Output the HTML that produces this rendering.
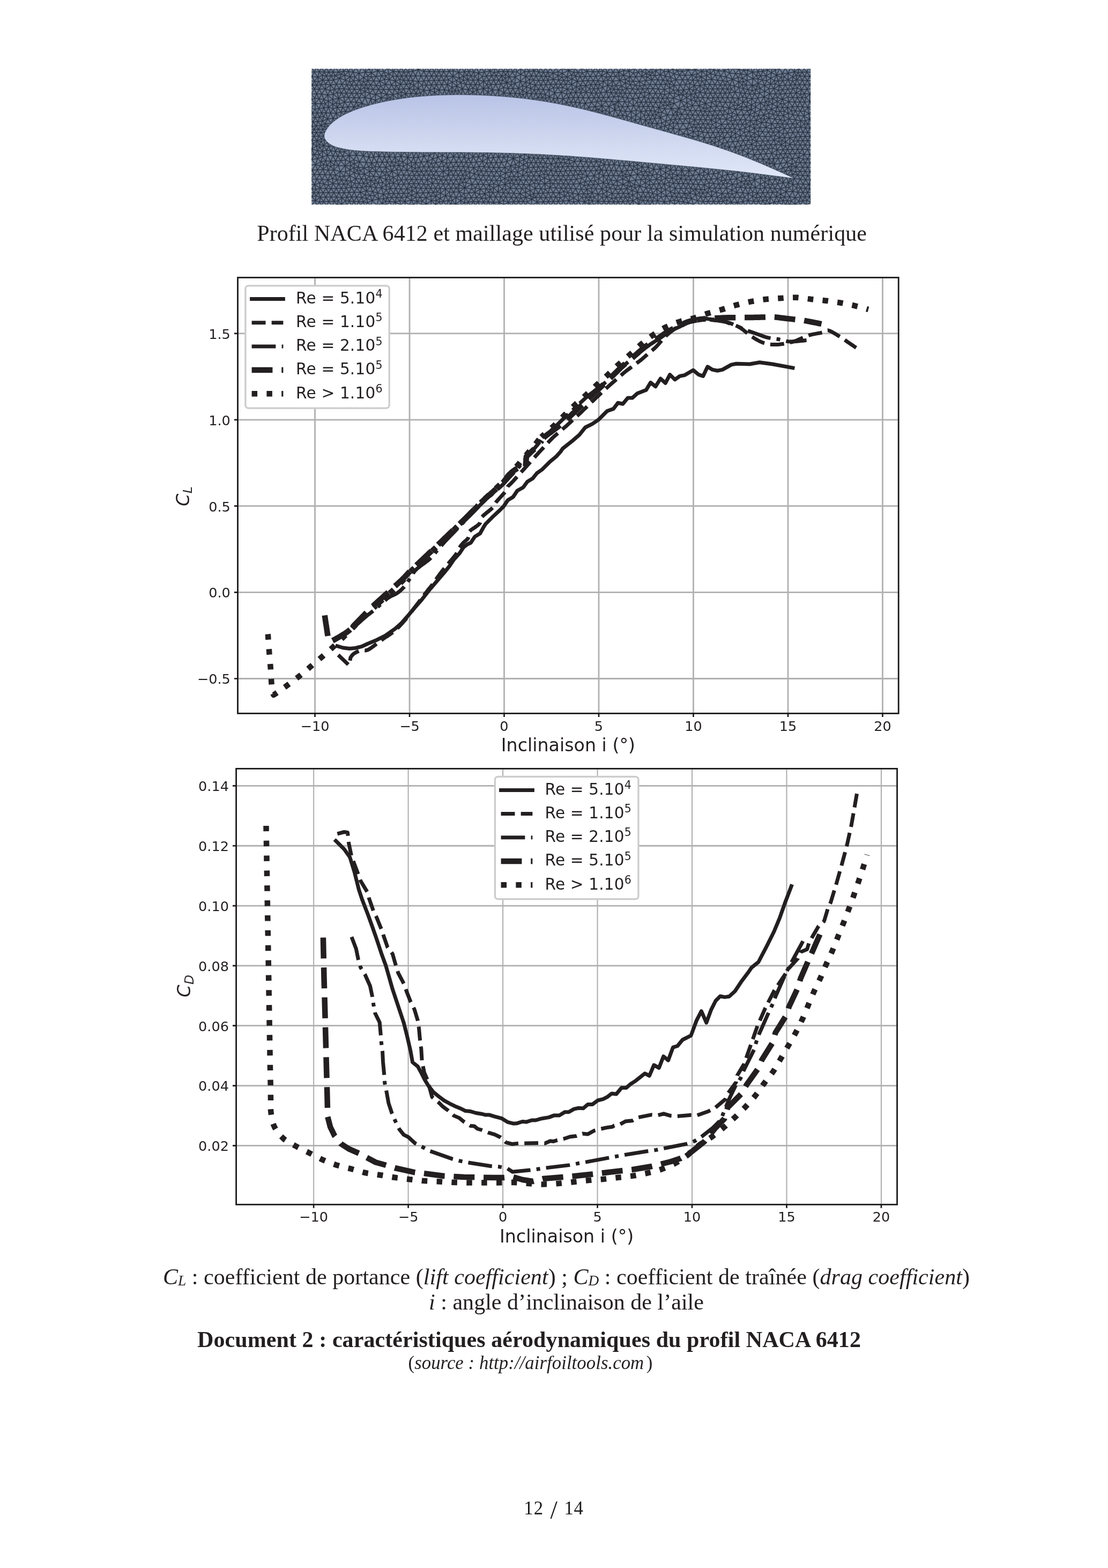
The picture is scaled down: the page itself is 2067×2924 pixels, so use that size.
<!DOCTYPE html>
<html lang="fr"><head><meta charset="utf-8"><title>Document 2 – NACA 6412</title><style>html,body{margin:0;padding:0;background:#fff}body{width:2067px;height:2924px;overflow:hidden}svg{display:block}text{white-space:pre}</style></head>
<body>
<svg width="2067" height="2924" viewBox="0 0 2067 2924">
<rect width="2067" height="2924" fill="#fff"/>
<defs><clipPath id="ic"><rect x="581.2" y="128.3" width="931.1" height="253.2"/></clipPath><linearGradient id="fg" x1="0" y1="176" x2="0" y2="332" gradientUnits="userSpaceOnUse"><stop offset="0" stop-color="#b8c3e6"/><stop offset="0.3" stop-color="#c5ceeb"/><stop offset="0.65" stop-color="#d4dcf2"/><stop offset="1" stop-color="#e0e7f7"/></linearGradient></defs>
<g clip-path="url(#ic)"><rect x="581.2" y="128.3" width="931.1" height="253.2" fill="#728096"/><g transform="translate(581.2 128.3) scale(.5)" fill="none" stroke-linecap="round" stroke-linejoin="round"><defs><path id="msh" d="M404-18l-6 21-8-18m953-2l4 18-15 9-17 0-14 12-16-14-13 6-8 10-16-6-15 10-23 2-22 0-24-6-17 3-13 1-19 1-9 13-17 5-20-3-18 0-20 0-19 1-21 2-19-8-15 6-8 13-19-1-19 0-19 1-18 2-18 0-21 1-20-6-13 13 1 22 17 3 17 0 18 0 17 2 16 9 19-14 25-2 19 6 16-3 19-3 2-21 3-20-21 11-13-13-4-15 19 9-2 19-21 0-12 12-7-13-11 15-8-15-9 14-10-13-6 21-12-19-9 17-9-17-9 16-12-15-17 12-16-5-14 13-12 12-16-2-19 1-23-3-19 13 14 1 5-14 9 15-14-1m785-119l3 21-16-6-10 10-7-14-11 15-8-17-18 11 0-14m158-6l5 19-22-5-12 18 11 24-20 7-8 13-18 0-20-1-19-1-19 1-18 4-21-1-16-6-17 3-7 20-9 14-9 5-14-7-20 0-18 5-16-3-8-18-20-1-20 0-19 1-10-11-2-17-13-17-10 16-12-16-17 9-7-15-14 19-16-15-10 18-9-17-12-15-7-18-10 13-8-13-8 15-11-15-9 15-10-16-12 15-21-12-13 15-12-16-4 16-19-6-24-9-15 13-8-14-11 19-10-19-9 16-9-16-8 16-10-16-7 15-8-14-11 10-18 2-17 1-14 10-14-10-16 1-18-2-16 0-19 1-16 3-9 12-19 1-16 2-15 12-12-13-15-1-15-3-13 4-16 6-23-6-17 13-17 2-19 0-18 0-20 1-18 1-21 3-20-4-17-1-8 15-21 0-16 6-18-4-22-2-18 6-17-2-21-2-17 0-6 11-16 6-21-1-20 0-19-1-18-1-18 2-16 5-18-6-13 19-10 18-16-3-11 6-15 1m1416-131l3 20-22 5-18-2-18-7 5 18-20-9-12 17-5-17-13-10-17 8-4 18-9-12-4-17 17 11 3-19m-1074-3l0 15-13 11-24 5-22-5-17-1-18-2-19 4-20-1-8 15-18 0-15-2-17 6-21-2-19 2m1718-44l0 18-12-9-5 14-10-15-8 16-9-17-12 19 2 24-21 6-15 5-17 1-23-9-10 20-10-13-4-17 24 10 7 24 16-15 12 11 5-12 10 12 5-17 18 19 3-25 19 1 16 4 16 3 15-10 22-11 16 8 13-2-6 15-7-13-10 13-6-21-9 20-13-9-1 22-14-12-8 17-8-20-16 13-19-18-23-14 2 20-18-8-14 14 0 21-16-6-17-4-18 0-9 15-9-15-9 15-11-16-8 16-11-17-8 17-11-16-4 15-14-11 1 24-18 5-17 4-15-4-12-13-20 1-12 11-6-12-14 12-20-13-14 15-9 16-19-1-17 2-16-5-21 3-21 4 2 25-21 4-20 0-15 0-11-8-2 20-5-21-7-10-22 1-9-16-18 0-17 1-10 17 21-2 6-16 10 13-16 3-11-15-10-17-20-4-1-24-11-18-8 17-13-15-6-19-13 11-2-16-11-16-7-15m607-3l-4 11-9-10-6 18-12-18-10 18-6-15-11 12 17 3 22 0 15-8 17-2 10 20-11 22 20-8 3 17m-1212-59l-4 19-12-14-5 17-10-12-7 12-9-16-9 15-10-16-11 15-22-12-13 13-9-17-13 14-4-17m138-1l16 13 16-8 5 15 11-15 9 15 10-16 8 17 10-16 8 16 9-16 9 16 9-19 11 18 15 18-3 22-14-9-4 18-13-16-8 16-11-16-9 16-9-16-10 17-10-16-9 17-9-16-7 16-14-13-16 14-4-18-9 12-8-13-8-16-9-15-18-1-21-1-5-17m368-3l-3 19 16 5 8 12 8-15 12 16 7-17 8 12 8-12 6 20 12-18 10 19 6-20-5-15-11 16-8-17-10 15-8-15-8 15-10-15-9 16-12-14-4 17m-567-23l-13 22-13 13-7-14-9-12-8 13 17-1 8-19 12 20 10 7 9-11 4 15 14-13 6 19 11-18 7 18 15-13 17 16 7-21 22 3-9-14-12-7-1 18 9 15 13-12 25-7 22 3 19 8-6-21m-169-7l6 18 11-12 7 14 9-16 8 17 11-16 11 21 0 26-15-13-18 0-20-6-13-4-23 6-15 1-10 16-8-16-13 15-19-11-12 15-9-17-8 16 9 15 8-14-17-1m971-54l-6 16 23-10m627-6l-15 12-12 15-22-2-20-8-14 19-8-19-11 16-6-19-12 13-4-19m124-8l4 15 10-11 5 11 10-12 7 19-17-7-15 0-19-3 8 16-20-1 9 14 11-13 11-13 11 17 4-17m-798-14l-1 16 19 4 17 1 17 0 19 3 19-5 16 6-1-19m89-6l4 18-18 6-3-18m183-6l-6 17-20 15-18-11-12 15-9-15-10 16-16 2-10 16-14 12-6-15-9 15-9-15-9 15-11-15-8 19-19-1-16 5-18-9-15 18-6-18-8-15 16 2m376-53l-1 18 7 21-19-4-19-5-20 4-17-2-12 7-19-3-10 19-23-1-16 0 4-16-4-21-10-16-9 14-1 17m169-32l14 9 13-8 5 15-13 11-13 12-11 13-8-17-9 15-10-20-9 19-11-15-11 15-6-17-5-13 13 3m460-22l-2 13 5 19 11-25-16 6-12-8-2 18-3 20-17-9-14 16-6-16-10 12 0 17-22 7-23-2-15 0-12 10-14 17-2-23-12 12-5-16-9 15-9-15-9-16 17 3m-734-54l12 15-9 18-9-16-12 19-5-18-13-12-1 22-20 10-22-1-14-8-15 5-20-1-17 0-11 17-8-16-11 20-1 27 17 13 2-16-19 3-14-15-5-18-19 2-8-16-12 14-16-13-1 15-15-9-10 10-13-16 1-20-8-14-8 16-20 1-18 0-18 0-18-1-20 0-21-7-20 6-17 3-17 0-8 15-10-16-7 16-14-17-16 9-12 8-7-16-9 15-13-18-7 20-18-13 0 16-13-4-16 6-17 10-20 2-13-15-18 12-2-18-19 11-17-9-6 16-9-15-9-14-9 14-8-15-7 13 2 17-16 6-3-17-13-19-8 17-10-17 9-17 9 17 9-17 10 16-6 20m794-38l-6 17-10-15-7 16m526-18l-5 17m5-17l12 17m86-17l13 11-26 1-11 19-11-14-10 14-8-16 10-10 8 12 6-13 16 8 13 18 13-19 8 15 18-9-26-6m-13-11l-13 12m398-12l-2 18-6 19 13-5 14 2 18 1 19 0 8-15-12-18-7 17 19 1m-1329-19l-9 14-16 2-10 17 25 1 21-14 2 20 5 18-15-8-16 6-18 9-21 0-20 0-19 1-19 1-16 0-14 12 0-25-10-22-10 18-8-17-9 16-17 0-12 15-6 18-10-12-7 13-11-17-9 17-13-19-7 19-11-13-8 13-9-15-12 15-9-17-9 14-8-14-9-12 0-15 16 11-7 16-17 0-5 17-12 15-9-16-10 15-10-15-10 15-9-16-10 16-8-17-7 15-11-13-4 19-12-14-9 17-9-23-15-15-10-12-15-2 8 15 7-13m512-54l11 20 18 14 3-17 10 13 3 17-17 2-10 9-14 12-17-14-1 19-17-10-11 19-10-19-10 20-10-20-8 14-11-13-6 20-13-19-9 20-7-20m146-67l-9 20-20-6m29-14l12 17 8-17 9 16-7 14m-393-29l-10 22m10-22l14 17m396-17l-10 15 8 17 10-15 5 16-7 15-20-2-8 17-9-15m31-48l8 17 11-16 8 20-14 12m42-33l-8 17-7 17 5 18-20-6-10 18-9-16-10 16-10-18m69-46l13 14-12 18-9-15-10-15-10 19 13 13m518-34l-9 18 1 14 3 16-26 3-18-4-1 19-16-14-3 23-11-11-15 0-18 0-19 4-12 12-7-13-5 14-11-9-14 9-4-18m185-63l10 12-19 6-11-16-10 16-10-17-12 18-17-5-16 2-20 0-22-1-7 19-9 16-10-15-11 17m-953-51l-9 15 11 14m-2-29l9 16 9-15 8 16-17-1-18-1-19 1-18 0m237-16l-6 19m6-19l19 12m-19-12l-15 5m471-4l-20 12 7 17 8 16 9-16 9 16 11-15 4 16-15-1-18 0-19 1-19 4-15 12-15 0-19 0-18-1-19-6 7 23-21-11-1-20m685-47l-8 16-8 17-9-14-13 14m38-33l8 13-1 18 14 16-24 3-15 14-8-15-11 13-5-13-13-7-21 4-14 18-12-15-19 15 16 3 3-18m144-49l-9 14-11 7 4 13-5 13 23-3-18-10m466-34l-17 8-17 5-18 1-21 2-21 10-22-4 6 16 3 13m176-51l-9 20-14 13 14 11 17-11 0 16-17-5-20 4-17 0-15-1-14 13-22 5-24-7-4 10 12 8-8-18m121-58l14 14 7 14 3 16-16-11-17-13 0 24-11 20-9-16-12 18-5-18-11 12-4-13m-520-46l-22 11-19-2m41-9l-5 18-17-7m22-11l12 15 15 15m535-30l-11 19-22 7-19-9-15-10-5 21 2 19m70-47l10 19-21 0-6 15m-970-33l-15 12m480-12l2 19-14-8 12-11 13 12m487-12l11 18 7 13m55-31l-18 12-23 6m41-18l-4 15-7 11m11-26l11 14-8 14-11 14-16 5-8 14-9-19m-476-41l-1 22m254-22l5 16-13 14-7-22m298-8l-8 13 10 15-9 15-9-16-7-13-14-3m37-11l10 12-8 16 10 16 9-16 16 1m-1477-26l-10 23-10-17-8 18-9-15-8 15-17 0-17 0-16 1-14-9 1 21-14 18-22-12-13 16-9-17-12 15-10-16 0-17m188-24l10 24-10 21m1332-43l-14 10-20 11-12-16-8 16-10-15-6 14-13 12m-688-30l-23 10-17 9-18-10-13 12-6-15-8 15-9-15-8 15-9-16-10 15-9-19m130-1l-6 23-17-13-2 14-15-5 1-15m-255-2l-21 3-20 4-2 25m464-32l-4 17-13 18-8-16-10 16-11-16-9 16-10-15-11-13-16-3-16 0-8 10-17 7-19 1-12 11-11 15-9-18-10 19-10-15-8 17-9-17-9 17-9-16-12 17-4 18-11 14-10 20 14 2-4-22-2-20-3-18-16-5 3 18-15-5-15 9-12 19-5 16-14-15-14 12 14 2 0-14-8-19-15 16-2-19-18 9 1 23-14-1-10-22-17 8-15 12-2-25 13-15 6 12 15 8 23 0 20 10m757-80l-18 1-3 20-15-11-21 4-24 1-21 0-21-5 8 22-21-10 4 16-15-3-17-2-19-1-22 0-7 18-9 15-12-14-7 15-7 16-8 17-6 17-13 12 20 4 17 0 18-1 18 1 7 17 15-13 11 17 11-12 25-1 15 11 7 0-1 13-7 15 17-1 20 0 18-2 18 6 21-2 19 1 21 1 16-6 17 2 23 1 21-9 21-7 23 0 22 0 16 7 17-6 21-1 18-6 16 4 18 4 21 1 17-9-2-21-19-1-20-2-17-11 1-20-17 0-16-6-23 4-22 3-2 23 15-10-13-13-8-18-18-3-17-1-20-3-20 3-17 1-18 0-19 0-18 0-19 0-19-4-14-11-8-14-19 13-14-16-11-18-11-17-13 17-17 6-7 10 0 14 0 20-8 18-10-13-2-18-22-3-10-17-10 16-11-15-16-15-5 16-19-13m252-38l-1 16-17-15m18-1l14 9-15 7-20 5-20 1 5-12m-1134-9l-2 18-13 12 8 20 14-14 4 18m103-54l-11 17 11 18 9-18 9 17 11-17 9 16 9-16 9 16 9-16 10 16 9-16 8 14m-92-31l9 17 11-17 9 17 9-16 9 16 9-16 9 16 9-16 10 16-19 0-18 0-18 0-20 0-20 0-20-1-18 1-17 0-9 16 9 15 16-2 13 6-17 12-12-16-9 17-12-17-20-12-9-18m284-18l-17 1-21 3m38-4l18 2 19 4m404-6l12 18 10-17 11 17 9-17 12 15 7 21m145-37l-16 3-17 3m647-4l11 16 9 16-18 0-19-1-20-2-7 18-9-13m53-34l-18 1-15 1m-837-1l7 15 9-15 8 17 8-14m115-3l-22 1-21 12-21 2-21 0-19 1-19 1-17-2-15-5m155-10l21 0m499 0l15 12 6 13m-563-24l-4 17 7 11m-205-26l1 23-14-11-14 0-17 0-19-1-18-1-21 3-19-8-1 25-7 26 4 21-8 15-8-17-8-17-11 18m748-74l18 6 19 3 21 3-13 14-9 16-10-17-10 16-12-20-7 19-14-16-5 17-10-13-8 17-13 13-4 16-8-12 4-18-5-20-11 14-3 19-9 17-14 6-7-5-11-13-18-1-14-8-20 7-13-19-9 16-11 16 19 2 8 17 8-14m171-78l4 21-19-14-2 17-18-12-13 14-13 18m-1317-42l-6 15-23 7-19 1-21-1-6 18-17 1-16-1-16 2m737-40l-1 13-14-8m709-4l16 8-11 11-5-19-14 18-9 18-20 1-7 20 2 18-19 11-15-18m288-68l-16 12-17-3m-197-8l-10 17-24 0-7 21-17 9-15-13-5 20m78-54l10 17 8 15m95-32l-14 15-21 3-15 4-3-16m53-6l8 19 11-16 8 17-19-1-22-4m167-14l16 1 20 0m-1435 0l-20 2-18 3-13 13-16 4-17-5-9 18-8 15-10-15-10 15-8-16-11 15-8-18-10 17-11-17-7 19-14-15-20 14 2-18-11-15m219-16l16 1-5 13 4 18m-15-32l-7 20 4 18m3-38l11 14-18 6-13-18-9 17-9-14m597-5l-8 14 3 15 13-13 7 19m-15-35l8 16 10-15 9 17 10-16 8 15 9-15 8 15 6-15m31-2l-17 13-20 4-17 0-18 1-19-2-16-2-13-11-20 17-19-15-13 15-9-16-15 5-10 8-7 14-8 22-11-20-12 20-6-21-9 13m259-45l3 16 8 15 11-14-7-12m148-5l17 5m-822-4l13 13-18 0m47-13l-7 19-22-6m29-13l10 13 3 18m4-31l-7 13-17 6m24-19l8 16-15-3m470-11l0 21-20-4-20 9-7 19-19-1-17-3-10-13-8-15-11 17-7-17-11 16-8-15-7 16-12-12m-498-17l-2 18-16-6-21-7-13 22-10-15-11 19-2 20m93-51l-5 15-15 3-10 12-6-18-13 15-8-22m633-5l-10 22-12 18m237-40l-12 13-19-1-20-3m-142-8l-1 24 13 17-20 2-8-14-11 13-5-21-15-9m721-12l7 13 8 19m-726-28l5 17 19-6-3 14-16-8-22 5-19 2-18-1-15 1m517-20l-1 15-20-11 6 21-20-3-15 3-7 11-9-14-5 25-11 21-8 13 17 3 10-17-19 1-10-17-8 17-9-16-8 17-20 0 10 17-9 18-19 9 14 3 14 3 19-5-6 9-13-4-9-15-5 12m-218-115l-13 10-12 13 1 18 15 9-7 22 14 1-7-23 15-17 13 6 6 14-13 22 14 2 14 2 14 2 13 3 9-20-2-25-14 16-7-18-10 16-8-17-10 17 8 14 10-14 6 14 11-12 2 15 14-6 5 22 10-15-15-7m382-63l14 17 8-17 11 18 8-17 10 16 7-14 8 13-15 1-18 1-19-1-21 1-21 1-17 4-17-3-19-2-19-5 14-8m176-5l15 19 13 19 21-4 6 21 9-16-15-5m-25-34l20 0 19 1 18 2 16 2m-73-5l-9 19-22 2-3 17m461-38l10 18 7 19 21-2 19-1-9-16-10 17-9-16-12 18-20 12-13 17-18-1-20 7-20 9-17 9-12-9-14 1-6-18-13 23-10-19-9 16 19 3 19-5 10-12 4 11 13-11 17-4-1 15 0 20 13-12 7 14 7-13 12 14 18-4 19 0 19 0 20 3 16-3-9-19-7 22-12-20-8 17-10-17-9 17-10-17-9 17-13-18-5 22-12 13-7-14-9 15-11-17-21 9 4-20-17 5-9-13-5 15-14-10 0 25-8 20-7 19-10-13-12 15-4-22-15 18-7-18-12 18-11-18-8 19-13-12-3 15-18-6-17 19-6-20-15 13-18-9-12 15-9-16-9 15-10-16-8 17-13-15-21 12-15-16-8 18-12-18-9 17-8-16-7 14-14 6-17 5-12-11-18 3-18-2-14-1-11 12 14 4 13 3 14 4 16-7-14-13-16 16-2-18-11 15-3-16-11-10-13 18 13 4 0-22-5-19 16 0 16-1 8-14 5 14-13 0-9 16-7 14m-1194-159l-10 14-17 3-7 16 22-1m12-32l8 18-18-4m124-14l9 17 11 11 14 3 18 3 21 0 19 0 20 0 20 0 17-1 18-1 21-1 4-18m1462-13l-10 16-17 0-17 1-20 1-21 2-16-6-18 0-6 17-16-12 1 22-3 21-16-14-7 18-12-15-10 18-20-3-6-18-6-17-5-14m225-17l9 17 10-16 9 15 9-15m-1658 0l22 1 22 1m-97-1l-7 16-8-13m15-3l11 16 13 16 5 16-8 15-19 0-21-1-17-2-20 5-22 4-16 7-17-7-18-2-9-19-7 16-15-15 4 21-6 13 19 2-13-15m746-69l12 9-15 5m35-14l8 17m556-16l10 15 15 18m-1174-32l-8 12-18 1-18 0-18-1-19-3-21 0-21 4m1099-7l-14 10-12 13-8-16-8 15-7-12m49-10l6 19-20-9 4 15-7 12-8 12-17 2-20 1 12 16 8-17 17 17-18 10 7 1 11-11 0 19-13 12 12 20-6 11 14 3-8-14 17 1-9 13 13 4-4-17 16 2-12 15 14 4 13 4 16-8-2 12-14-4 2-17-15 13-2-19 17 6 17-10-3 19 11 15 8-20 6 24-14-4-13-3m130-146l17 5m359-5l13 17 5-17m-1155 1l-12 17-4 22-10-15-7-18-18 5-12 12-5-22m68-1l10 20 8-19 9 13 10-13 6 19 23-4-12 24-14 0 3-20 9-19m415 0l-5 16-14-12m19-4l11 16 7-16 9 15 6-15m114 0l-13 14-6 18-9 15-16-3 0 19 15 19 8-18 12 18 5-17 16 13-9 23-12-19-9 17-11-17-7 16-8-16m44-82l8 16 11-14 9 15 18-1 9 12 10-13 7 18 13-18 9 17-9 17-9 17-9 15-8-16-10 17-8-17-9 17-7-16-15-13-20-4-18-2-16 16-25 0-10 19 17-9m677-73l-8 16-9-15-10 16-10-15-9 17-12-15-21 11-15 19-22 12m116-46l8 13 16 6-4 17-11 13-18-1-14 16-24-10-19-6-7-14-10 18 16 11 13 8 7-17 7 18-14-1m71-71l19 1 19-1 17 1m-55-1l-9 13-4 18 5 18-10 16-8-17-8-16-10 15 4 17-17 8m-1761-71l-8 14 16 2-14 18 22-1 19 1 8 20 14-16 3 23-12 9-5-16-10 16-8-18-14 18-2-21m-9-49l8 16 8 17 10-17 9 18 22 4 19 16 2-19 20 15-5-21-15 6-21 3m1561-38l-10 14-11 16-6-20 17 4 17 3-7-17m-1602 1l-8 15 18 0-10-15m1086 0l-19 9-7 20-17 1-18 0-7-16-13 12-19 3-19-2-12-12-7 15-12-15-23 12-13-16-12 18-21-11-21-2-18-1-16 3m-449-17l0 16-17-4-13 19-3 16 14-1 14-2 14-2 14-1-15-11-13 14-6-14-8 16-11-15-8-18-9 12-9-11-4 16 0 21-14 3-14-9 0 11-11-8-16 14-7-16-7 19-15-10-17-5-21-5-22 1-9-16-10 16-9-17-12 16-8-16-9 14-10-14-10 19-9 17-13-13 0 18-16-11 0 22-9 21-9 14-15 2-17 2-17 0 8-17 9 17 8-17 9 15 8-16 7 14 15 10 20-4-9-19-11 23-6-24-16 0-17 1-17 0-16-1m394-102l16 11-16 5-11 14-6-18m1279-12l18 3-4 13-14-16-16 15-11 14-9 14-8-15-8 21-12-24-14-11-6 14-8-15-9 16-9-16-9 16-9-16-10 16-9-16-9 16-10-16-9 16-6-17-13 13-9 20-9-15-5 15-12-11-16 12 1-16m244-30l0 19-9 13 18 0 19-3 19-7 19 9-6 18m-14-49l-16 11-2 18-14-13-5 16-9-13-16-4 7 17-12 15-13 15-18 11-11 17 8 20-19-8-2 15-14-11-7 20 6 18 12-12 16-3 19-1 19 0 19 4 22-2 16-7-9-12-13-11-20 10-8-15-14 15-8-19-15 19m157-109l-4 17-11 13-21 0 11 18m-1179-47l-6 17-12-12 0 16-7 12-5-16-9 17-14 0-14 1 1-20 13 19 7-20 7 20 14-1 14 0 5-16 9 16 4-15-13-1-12 4 7 12 14 0 14 0 14 0 14 0 14 1 14 0-13-11-15 10-2-19-12 19-10-22-14 7m676-18l-8 12-9 16-9 20-14 12-17-1-7-17-8-15-17-1-8 15-10-15-10 16-8-20-21 4-10-16-7 17-9-16-9 16-10 17-10-21-13-12-6 15-6-14-13 12-9 19-10-16-8 17 10 16-7 15 14 3-7-18-17 1-18 9-13-3-3-22-11-19-5-19-16 8m51-9l-5 18-14 21-11 19-4-17 4-21m30-20l-18 2-17-1m35-1l18 6-4 18-13 18 21-4-8-14m135-24l14 16 18 4 18 0 9 13m-59-33l-17 4-16 1-16 0m-840-4l3 14-19-8m421-5l0 15-1 11m1-26l-17 6-22-3m39-3l16 6 11 20 14 1 14 1 1-13 13 13 4-21m97-7l16 9 1 16-13-4 6 17 7-13 14-7m1009-18l-16 3-9 16-20 2-10 20-8-19-11 13m-1340-34l21 8 14 20 8-21 6 20 12-12 2 11 14 0-16-11-18-8-22 1 0 21-14 1 1-13 13 12 14-1 14-1 14-1m-63-26l-8 19 1 12m7-31l8 17 13-9m39-8l-17 7m17-7l18 6 20-1 16 3 12 4m-66-12l1 15 17-9m700-6l12 18-9 17-11 15-23-1m31-49l-16 6 10 12 9 17 6 16m-9-51l21 2-9 16 11 21m475-39l17 11 15-10 4 19m-36-20l-16 5-14 3m-1433-7l-11 11 0 22-14-14-17-1-19-1-20 0-19 0-15-2m115-15l6 18 12-15 10 19 11-19 10 13 9-13 11 18 9-18 14 19 5 20-14 2-14 3-13 3-14 3-14 3-13 4 12-17 22-9 23 2-3 11m1183-47l15 1 19 0 19 0 18 0 18 0 14 1m140-2l19 0 6 19 18 1 18-1 10 13m-52-32l17 6 7 14 9-16 9 15 10-17 10 15 21-1 16 5 6 13-17 0 9 16 8-16 10 16-18 0-19 0-22-1m-770-48l-12 1m115-1l-14 11m14-11l4 15 10-14 8 14 8-13 9 14 17 0 18 0 20 1 12 16 10 16-16 1m-100-50l14 1 16 1 16 2m37-4l11 17 20-1 13 14-11 19 18 0-7-19 3-18-16 4-11-15-20-1m599 0l12 15m-12-15l-19 1-19 2-16 2m126-5l-9 20-10-19-10 16-11-14m-873-2l19 0m462 0l-12 4m-1115-3l-6 19 19 17 13-2 0-10-13 12m-13-36l13 15 13 9 14 8-14 2m47-33l8 14-19 0-19 1-17 8 0-14-13 5-19 4-9 11-11 3-3-15-20 13-21-12-18 16-4-20-17 15-12 21-10-20-11 16 21 4-14 9-16 5-22 0 10 18-13 6-6-8-17 3-18 5-12 18-5 19-15-15-19 6-6 17-18 2-7 13-13 1 5 11 8-12 16-1-9-12-11-15-10-16m589-104l17 9 16-9m80 1l-13 22-14-1-14 0m731-21l-2 19-16 0 8 21-8 28-27 2-15-13-10 14-22-5-22-4-9-16-8-15-9 14 17 1 19 0-10 16-9 15 16 2 13 5 13-1 20 10-9-22-6-14-16 9-12-20-10-17-13-16-20 13m-1041-20l-14 8m14-8l17 7 22 4-1 21 1 13m96-43l17 6m672-6l-11 21-8-18-10 17-9-19m258-1l17 5-4 18m193-23l10 20 9-16 10 18 9-18 10 17 8-17 10 16 17 1 19 0 11 17-5 21-17 11-17-1-20 1-19 2-17 0-16-2-19-1-20 0-20-2-23-7-12 13-9 12 8 16-17 2-4 18-5 17-12-12-16 5 4-16-5-20 5-20m273-75l-9 20-11-17-8 18-9-17-10 17-8-17-9 16-18 1-19 1-19-2 9 22-23 9-13 18-12-19-8 19-10-13-10 11-4-16-19 9-5 13 16 9-7 18-10-14-6-13m-426-72l6 24-17 19-14-3-14-2-14-2-5-14-8 11-5-14-9 12-7-12-21 8m1055-27l-20 7-14 12-15 1 9-16 6 15-5 17 19-2-14-15m-1585-17l0 18m0-18l-21 6m21-6l20 5 14 12m112-17l-16 2m893-1l10 18-9 16 18 0-6 20-2 18-8 9-5 14-10 17-7-15-7-15-11 19-19-6-16-14-19-12-15 16-6-18-10 16-8-17-9 16-19 7 13 4m145-93l-22 1m95-1l-5 18-23 0-18 1-17-1 9 16 10 11 16 0 11-3-3-10-8 13-9-12-7 12m527-44l-15 3m15-3l20 3 17 15-17 12 18 10m-1597-37l23 1m1556-1l0 27m-444-26l1 20 5 21-18 6-14-5-11-19-27-10-15 14-17 1-9-14-8 15 17-1 9-15 8 14 17 6-10 20-4-16 14-4 17 18 11 22 13 18 9-16 9 14-3 18-23 2-21-1-15-2 0 19-14-13-14-13-15 7m-518-105l7 15-14-2-14-2-13-1-14-1m645-8l-8 21-25 10-2-20m35-11l13 10 2 19-12 11m-1268-33l2 19-22-14 4 21-13-4-13 5-16 11 8 22-17-1-8-18-8 18-10-16-7 17-8-14-9 14-8-19 17 5 1-21-18 16m1612-41l-16 6 18 13-6 18-23 10-11 12-12-18 23 6 23 1 22 4 16-4-1-18-19 6-18 12 0-11-12-7 0-24-21-4 8 17-16 1 12 12 6 15m27-47l2 19 12 17 4 16 13-6 2-16 16 7-1-17m-48-20l15 4 4 15 14 11m-1503-28l-15 17-18 7-9 13-4 22-21-1 9-16 12 17 5 20-17-2 5 10-10 9-10 11-8 11-15 1-7-15 14 5-7 10-16-1 9-14-11-14-7 16-16 1-4 13m141-120l9 17 12-16 8 16-20 0-24 0-7 20-6 17-1 18-17-13m108-59l12 30 9-25 5 22-14 3-24-9-2 17 13-4-11-13m657-21l-7 10m7-10l16 0 13 3m103-3l18 0 6 20-12 18-13-3 9-17-8-18-18 1-7 17-4 11-14-2 4-22-20-3-15 2m74-4l-8 17 16 1 4 20 14 4 13 3 5-23 23-4 14 16 7-18 18 15-2-18m-86-13l-10 18 16 2 2 22 18-20-20-2 12-19 8 21 14 14 23-2 5 12 8 12 14-7 13 15 0-19-13 4-1 11-13-4-14-3m-62-55l18 1 21 0-13 21m406-22l-11 9-15 11 2 16m24-36l14 0-8 15-12 15 25 1 6 19 10-11 6 13 7-12 10 12 5-17 14 15 7-18 13 17 10-15 7 16-6 15-11 15-9-15-8 13 2 15-14 8-4-17-13-17-8 16-10-17-9 16-9-16-12 18-3 17-18-5-9 21-14-19-13 21-8-22-15 17-19 4-17 8-11-15-3 11-13-4 2-20-8-19-8-14-8-16-9-16-8 17-10-16-9 19-8-19-10 13-10-17m226-30l6 15 13 16 16 8 13 1 15-5 21-3 23 2 24 5 17-9 17-2-13-11-4 13m-134-30l19 0-10 14-4 17m-5-31l9 14 19 8 10-20 14 16-3 17-21-13 6 18m41-40l-8 14 3 18-18-14-24 4-7 17m54-39l8 17-13 15m60-32l-19 1-8 17-20-1 10 17 10-16 14 21-4 22-13-11m30-50l-8 18-19 0-11-17-9 16-16-3-10-13-5 17 15-4m-109-13l-21 11 23 8 20 10m-22-29l17 8 17 6 17-1m142-10l-13 13m-641-12l14 13 10 14-14-3m695-24l-16 12-5 17-18 1m104-20l-5 14-7 17-8 19-12 13 13 3-1-16 19 12-1-18-10-13-21 0 13 19m-590-49l-15 15 2 20-13-7-9 2m35-30l12 18-12 13 14 9-2-22 22 12-20 10-14 10-14-4m-961-45l13 18-9 16-11-14-20 0 14 17 11 11 6-14 19 2 13-5-1-13-12 18m1-36l-11 18-20 2-11-13m42-7l11 18 9-18 7 13 12 8-14 5-14-8m1452-18l17 0m-1535 3l4 17-17-12 1 17-17-6-17 3-10-16-22 0 14 18 8-18 15 0-5 16-18 2-15 3m1662-23l-18 14-15 11-8 19m-1583-42l12 13m1640-7l13 15-10 15m-3-30l-14 2-14 15-21 9-4 17m-1476-42l-2 13-13 5m53-18l-13 4m884-3l15 16m-15-16l-25 3-14 17m39-20l-11 13-1 14m12-27l27 3m579-3l7 15 20-2 6 19-15 14-18 4-10 13 16 17-12 17 21 1 10-13-19-5 9 18 19 0 7 13 16 7 19 0 20 2 21-4 18-1 9 15 18 0 18 1-8 16-10-17-9-16-9 16-10 16-9 16-10 17-19 0-17-1-18 2-16 3-17-6-22 2-20 1-23 3 13 14 10-17 10 19 10-20 11 19 11-21 7 20 3 21 14-21-7-14-10 14-18 1-21 1-20-2-19 6 6-20-19 15-13-6-13-5-13-5-13-5-13-4-9-20-17-3-9-9-12-11-16 8-12-6-6-14-22 1-22-7-20 3-17-8-19-4-14-15-23-5-9 19 13 4 14 4 13 4 6-11 13-17-27 2-19 18-4-23m-292-80l14 10m550-10l17 10 3 2 12 9 3-20 18 11m119-12l-4 15-14-11m18-4l11 16 8-16 11 17 8-17 8 17 12-14 3 23-18 9-22-2-19-2-18-6 4 21 13 18 17 0-7 15-10-15-9 16-22 2-16-6-17 3-17 3 9 13 8-16 12 15-13 14-5 17 21-10-3-21-20 1-10 16 17-3m7-107l-5 17-10 11 7 18 11-14 9 16 12-15 4 18-16-3-20-2-22-4-10 16-2 18 22-13-3 18m-1618-79l-16 5m1772-5l17 14-14 9 14 7-11 14-6 18-14 0-13 11-13-12-7-15-10 15-20 1-11 17-21 12 16 7-13 14-3 15-11 12-12 13-3 19-13-16-9 18-10-16-10 17-9-16-14 19-6-20-17-4-19 7-16 16-1-17-12 12 0-23-13 19-13-5 4-15 22 1 12 11 17 1-3 21 21-9 24 5m-309-172l-16 23 22 0-6-23m373 2l16 8 8 15 8-15 13 16 21 12 14-15 9 18 10-16 10 20-13 11m-680-52l-7 27-13-17-1 13-13-3m34-20l21 4 18 1 21 2 2 22 14 9 19-5 14-13-12-13-18 12 0-18-19 6m19-6l18 6-2 26m166-32l-12 15-17 4-15-1-9 18 10 12m43-48l10 17 10-15 9 16-10 13m-147-29l-8 17-9-16-7 16m24-17l-17 1-19 3m204-4l-11 16 8 19m3-35l9 17 10-16 8 16 8-14 10 15 7-15 12 14-6 18m33-35l-9 16-11-15-7 16 10 12m17-29l11 16 12 16m243-32l-12 10-14-8-3 17m29-19l6 16 9-15 10 17 9-16 13 18-12 18 13 12 5 15 9-15 17-1-9 16-8-15-9-12-5 12m-48-50l15 1 19 1 16 0-3 18 6 18-18 0 0 23-20 3-19 1-10 18-11 17-6-14 5-19 12 16 9 19 11-20 10 16 9-18 9 17 18-1 18 1-9 15-9 16-9-16-18 1-9-15-8 15-13-11 0 24-9 19-8 15-8 17-10-15-9 17-17 0-5 14-10 4 18 3-16 12-2-15-3-17-9 13-12-12-13 15 13 5 13 6 11-10-12-4-12 8 0-20m79-179l-16 1-16 0m108-1l15 9 3 21 11 17m-575-42l8 19-13 23m281-41l-16 4-19 4-20 0-18 1-19 1-18-1-18 0-20-1-19-1-22-2m-1248-3l-12 6-12 7-12 7-12 8m1201-22l16 10 25-10-5 23-3 18-5 20-14-4m27-57l13 18-18 5-20-13-21 4-17 2-18 4m-135-16l14 4m712-4l21 12-15 6m-1798-16l-4 16-11-14-6 17-11-15-7 16-17 2 12 14 9 12 8 12 8-13 9 13 7-12 8 11 7-12-8-9 16-2-15-9-15 6m1672-27l10 21 14 15 8-16 9 13-5 18m-67-50l3 16-19-9-11 14-11-12-16 12-3-16-12 17-7-17-10 17-9-16-9 16-7-13m312-8l-19 2m-76-1l-17 6-8 13-9 11m34-30l23 3 20 4m-43-7l-7 19 11 15 10 17-20 1-17 3m-1699-54l-10 17-1 11m1640-28l8 12-18 1-17 7-2-16m69-4l-12 17-20-5m32-12l10 16 10-14 8 16 7 17m1-30l10 13-18 0-18-2-22 1m-1676-11l-17 3-18 1-5 16-14 5m54-25l9 11 25-2m1563-9l-3 20-13-8-15 1-17 0-18 0-19-1-23 1-21-7 0 20-14-12-16-2-18-1-18 1-16 2-8 10-10-15m270-2l-6 19 10 15-13 16-18-11-19-6 19-12 21-2 22-2m-234-13l-9 15-9-14-9 14-7-12m34-3l9 16 9-15 9 16 7-14m58-2l-11 16 19 0 18 1 19 4-8-20-11 16-7-16-11 15-8-16m69 0l-4 15 17-7 14-8 13 2-10 14-3-16m-119 1l-21 13-21 2-18-1-18-1-18 0-15-2-19 6 24 11-1 18-15 6-2-14 18-10 19 15 0-17-9-13-10 15-5-17m111-11l-4 17 7 14-9 13-3 17-14-12-2 20-17 8-13-5 18-9 14-14-20 0-9-18-13 19-6-21-16 14-8 17-12-14-2 10-13-4-13-4-8-14-19 7 5-22m157-19l12 15-16 2-17-4-11 18-11 18-12 23-10-22-17 14 14 4 13 4m132-72l-9 20 20-6-11-14m55 1l11 12-7 13 17 2 10 18 11-17 9 16-10 17-9 15-9 17-19 1-20-1-4-19-13 15-9-13-10 20-9-17-8 16m42-89l-2 20-19 3-14 13-18-9-3-18-11 13-7-14-10 16-18 0 7 19-19 11-6 24-10-16-3 12-14-4 5-14m142-56l17 8 0 18-13 11-10 16-9 17-19 3-20 5-9-20-13 19-7-18-10 15-14 9 5-18 19-6 20-1 19-2-10 22m244-75l-10 19-10-16-9 18 19-2 18 0-9 17-9 16-11 15-10 17-9 16-9 13-8-14-9-14-9 16-13-16-20 13m108-98l18 4-10 15 9 16 9-15 9 16 9 16m-44-52l8 19 18 1-8-16 17 0-9 16 17 0-8-16 17 0m-425-1l-9 13 16 3 11-15 8 17 10-16 10 16 9 18 17-5 16 6-7 22-18 13-13-4m-50-68l7 16 19 2 20 0 19-1-10 19m2-36l8 17 7 14m94-30l-4 16 7 14-11 17-9 19-10-17 19-2 10 16 22-2 16 6-12 13-18 15-8 14m-2-109l15 13-12 17 8 16 13 15 3-17-16 2-19 1-10-18-9 20-9-13-10 15-8-18-12 19-12-16 24-3 18 3 18-7 21 1 18 0 6 14 16 5-19 12m-100-60l-9 16-16-1 9-13m16-2l9 16-11 19m112-35l14 11 4 18-9 19-3 18 8 14 9-16 10 15 19-2 16-3 17 6-3 19m-334-97l6 21-11 10-14-3m-50-27l10 15-14-3 4-12m267 2l2 23m-2-23l-16 14-18 13-13-16 17-2-4 18m34-27l16 10m-300-4l13 4m116-4l-19 2m242-2l-14 7 2 15-9 10m-12-31l6 17 15 4 7 15 14 16-17 2m-90-52l14 5 0 16m-1594-20l14 1-8 14 7 14-5 14 11 0 11 8 13 6 14-8 19 4 20-1 14 4 13 4 14 2 14 3 14 2-12 20-2-22-16 8 2-11m-75-62l-3 14-11 10 0 11 9 14-16-4-11 6 2-20-13 12-6-14-14 1m63-30l-15 1 12 13 4 13-6 22 15-12-9-10-15 8-7 10 2 12-9 11-4-17-17 12-5-20m1872-43l-8 16 15 1m-1873-16l8 14-9 14 19 2 9 14m-27-44l16 0-8 14 10 16 16 4m-18-34l9 13-7 17 16-7-9-10-17 1-16 0m24-14l17 0-8 13 20 0m1396-1l5 21-13-4-14-4m249-12l13 18-8 17 19-2 10 15 9-16 7 13m-50-45l-16 4m16-4l23 2-10 16 11 15 19-1 19 0 5 19 22 0 17-1 9 16 9 19 10-19 17-3 17 5 21 1 16 3m-162-71l12 14-12 17-10-14-20 0-22 1m52-18l-20 1 10 16 22-3 7 17 20 1-15 18m9-46l10 12 9-12 4 17 16-15m-320-1l-3 18m-1426-14l15 3m1674 2l18 5 9 13 7 18 9-13 8 12 18 0 10 16 13 14 4-17-7-14-20 1-9-19-17 7-16-5 4-16-13 3m13-3l13 5-17 11m46-15l-13 13 19 2 10 16 18 0-11 14m-23-45l6 15 19 0 9 16 6 19-21 12-23 5-18-6-16 3-19 2 8 18-22 3-3 18-13-6-13-5-1-14m101-80l17 0 8 15 19 0-10 16 19 1-13 18-4 18-17-6-10 17 1 18-17-1 1-10-13 11-20 3-23 10-9-23-8-7-13-13m63-63l-1 16m1-16l16 9m-1725-8l4 16 8-7 12 6-12 17-8-16-8 13-11-17-4 22-10-14m29-20l12 9m-65-3l-6 20 10 20-14 4 4 14-16-12m1857-42l9 17 8 19-8 16-13-17m4-35l19 1-10 16 21 4-11-20 19 1m-1895 1l16 13-16 7m1557-19l0 13 17-10m-1475-2l5 19 9-15 8 17 5-13 12 13-6 16-19 0-18-1-21-3-18 7-12-9-18 0-10 18-17 7m1531-53l13 5 14 4 13 5m74-9l-1 19-18-12m-1609-4l-9 15m9-15l-1 17 11 3 11 15 7-15-7-15-11 15m-10-20l21 5 19 3-12 12m27-17l3 19-6 21 5 17-15 15-13 19-11 18-22-1 15 21 7-20-9-17-16-2 9-15 7 17-13 16m59-108l-15 5 0 21-19 6-21 3-8 22 22-3-12 21-18 2m71-77l16 3-13 16 12 23-13 15 4 18-12 17-20-1 9 18-20 0 11 14 9-14 22 3-11-20 20 0 8 14-17 6 9-20 19 1-11 13 16 5-5-18 16 6 7 13-18-1 11-12 16-2 9 16-18-1 9-15 21-1-12 17 17 4-5-21 17-11-1-18-12-9-21 1-25-1-16-3-12 6-14-4-13-3-2 18 7 20-11 17 7 18 15-15 2 19-17-4-16-4-18 6-21-1 10 16 11-15 4 18-15-3-14 0m166-143l14 18 13-16 13 19 15-17 14 0 14 0 14 1 14 0-12 17-8 22 20 0 18 0 17-1 12-17 14 13 9-17-23 4 3 19 11-6 16 4-7-21 25 5 22 0 17-1 21-4 21-2 12 12 19-6 17-6 19 8 23-4 14-16-14-1 0 17 20 2 8-18 14 0 14 0 14 0 3 17 11-17-14 0m-447-8l13 1 1 17-26 2-24 2-8 17-9 18-17 16 1-19-13-13 1 19-10 14 8 17 13-18 6 19 18-13-7-22-10-18-6 15m82-53l14 1 14 1-1 18-26-3-9 17-17-15-14 16-2 22-18 21-2 19m1767-97l-13 15 10 16-8 15-10 16-9 16 9 16 18 0-9-15-9 15-8 15-20-2-9 17-18 3-6-14 10-9 23 3 11 18 9-16 19 0-11-15-18-1 9-15 18 1 19-1m-1807-77l8 19-9 20-18-2-12-14-6 17-13-11-7 22 7 20-12 18 20-1-8-17-19 1-10-18m79-54l17 2-9 17 10 18 8-17 11 17 16 19 3 22-7 16-14-17-24-6-21 1-19-3-21 2 10-15 11 13m151-68l14 1 6 22 8-22 10 22 12 18-7 17 17 1-10-18-20 4-11 14-18 4-21-4-16 4-15 7-18-15 18-15 3 14-3 16-1 22 23 11-18 10-12 10-5-14-10 14-8-15-11 15-7-16-14 14-19-13m-20-107l18 14m30-14l9 18 8-16 11 16 10 14-18 3-19 0-19 2m18-37l17 2 17 0 18 14 2 23 15-8 2 15-14 7m90-53l-4 22-18 0-21-5-14 22-5 19-4 13-12-9 2-16 14 12 9 14 12-10 2 23-11 17-21 0 12-17-18-5 6 22-4 18-14-8 2 21-9 20-19 1-19 1-19-1-20 0-10 16-20 2-16-6-15 3-17-1m251-168l16 18 12 22-10 18 23 2-13-20 8-19-8-20 14 1-6 19 10 19-5 20 16-6-11-14 8-20 21 2 9-20 14 16 14-15 11 20-18 16 16 9-1 22 20 4 17 1 17-1 18-1 18 0 19 2 26 0 1 19 10 12 18 0-10-18-18 6-17-3-10-16-10-16-9 14-9-15-9 15-9-16-9 17-9-15-8 16-7-12-10 11-3-17-17 13-13-14-2-17-15 13-1-17m-75-34l2 17-20 4-8 22 13 13-11 5-13-4 4 17-22-13-16-23-21-8m120-29l14 0 14 0 5 20m-33-20l12 18 9 19 15 2-6 14-9-16-6 15 15 1 18-3-12-11m-22-39l-2 18-18 1-20-3m54-16l14 0 14 1 14 0 14 0 14 0-17 20-2 25 15-8-13-17 3-20m-56-1l-16 18m44-17l0 15m42-15l5 20-9 17 16 4-7-21 9-20-14 0m14 0l8 19-10 22 21-4-11-18 6-19 14 0 14 0 14 0 14 0-20 13-8 22-13-20-10 22 23-2 20-10-5 17-15-7-13 19-10-17-8 19-13-15-15 13-16-9-14 8-17-4-8 16-10-13-8 19-23-14-14 16-9-18-14 16-3-17m153-54l14 0 15 15 13-15 8 13 6-13m-28 0l1 15m41-15l-8 25 12 14 7-20 15 16 2-22 14-13-14 0-14 0-3 19-11-19 14 0 14 13 0-13m14 0l5 21-21 14-22 4-17 3-10 13-5-20m70-35l14 0-9 21-4 20-17-6-11 20-10 17-10 13-9-15-9 15-9-15-9 16-9-15-9 15-8-14-10 15-7-16-12 15-8-19-12 18-21 0-18 9-16-7-15-2-19 8-16 11-17 2-2 22 20 5 21 0 17 8 16-6 20 1 19 1 23 0 17-7 9-13 18 1 19 1 16 2 16-5 22 2 19 1 10-16 8-18 19 1 10 17-19 0 9-17 18 0 9 15-17 2 8-17 17 0 7 14-15 1 8-15 14 0-7 14 20-3-13-11-4-16-10 16-7-17-10 17-9-17-9 17-8-16-11 15-19-13 21-4-3-11-18 15-16-17-11-16-9 17-8-14m69-42l14 17-10 21-13-17m9-21l14 0m14 1l14 0 12 17 16-17 0 23-16-6 2-17m-28 0l6 18 20-1-11 19-9-18-10 18-10-20m56-16l17 17-17 6-9 14-7-20m44-17l9 17 5-17 13 12 15-11 14 0 14 0 14 0 14 1-14 15 0-16m-84-1l14 0 14 0-1 12-18 5-20 0-8 21-9-15m56-23l14 1 2 20 12-20 8 18 6-18 14 16-20 2-20 2-17-9-4 21-14-16-8 19-12-19m109-15l5 16-19-1-9 21-9 18-18-1-10 15-11 16-18-1-16-5-16 16 21 4-5-20-17-6-12 11m134-83l14 0-9 16 16-2 20 7 22 12-1 19-15 4-13 14-10-7 7-15-22 6-22 0-19 0-9 16-9-17-8-15 4-19-21 12-22 3-20 2-18-1-18-1-19 0-20 1-17 3-10 12-2 19-16 16-11 13-13 15-6 19-10-14-8 14-8-16-11 16-8-17-11 15-7-16-9-15-19 0-19 1-16 1 4-19 12 18 9-18 10 17 10-16-20-1-9-17 21-1m370-64l14 1 13 20 25-7 14 11-1 19-17 8-5 19-10-15-16-8 3 22-8 18-5 14-12-7-18-9-22 0-20-1-20-1 10 17-20-1-19-2 11-15 8 17 10-16-8-17-10 16-4-17-12 12-2-23-15 17 1 22-14 17-6-14-8 13-7-12-5 19-12-17-9 15-10-15-9 16-9-16-19 1 9-13m234-88l7 14-4 18-8 22 15 9-12 12-3-21-14 14-8-14-9 16-10-16-10-18-8 17-18-2-11 16-14-1-14-11-10-19-10 16-11 15-17-1-19 0-17 1-9-2-2 17m230-81l-7 13m7-13l14 0-1 20-24 11-12-16-9 19-9 19-10-18-11-19-8 19-12-17m96-18l14 0-15 20-10 27-14-16-21 3 13 19m47-53l10 13 18-11-14-1-4 12-3 19 16 11 17 10 20-1 9-17 17 0 19 1 21 4 8-19 19-1 19 2 20 2-14 12-6-14-11 13-8-15-9 16-10-15 6-14 13 13 15-11 4 13 10-12-14-1-14-1-1 12m-153-20l14 1m846 0l5 20 13 5 13 5 13 6-7-17-6 11m-863-29l-4 22 19-7-15-15 14 0 14 1-13 14-1-15m14 1l5 15 8 17 9 16 8-16 10 16 9-15 7 16 14-12 18-4 17-1 17 1 18 3-4-15 21 7-17 8-8 10-8 17 18-1 18 0 19 0 19 1 20 0 20-2-9-15-11 17-9-16-11 16-9-16-10 15-10-16-9 16-10-15-8 15-10-16-10-13-9 15 11 15-9 18-18 0-20-1-18-2-14 12-19-9-12 15-18 1-20 0-20 0-17 0-16-1-14 2-11 15-15-13-17-2-19-1-20 0 10-16 10 16 10-15 9 16 13-16 4 18 14-9 17-7 9 12 8-14-17 2-14-13-21 11-13-16-9 16-10-16-10 15-9-17-19-1-8-17-6 16m205-62l14 0-9 15-18-1-7 18-13 8-2 19-15-11-13-10-2 14m79-52l7 16-8 16-18 0-11 18-19 9-1 21-8 17-9-12-16-3 8 15 8-12 17-5 12 17 9-15-21-2-19-13-14 15-9-16-22 5-3 20 1 22-24 4-2 24-19 3-15-2 5 18 10-16 10 16 9-19 20 4 19 0 20 1 23 2 20-5 18-7 19-8 21 1 16 2 18-6 22 2 19 0 18 0 18 1 11-16 23-2 16 7 16-2 19-1 18-2 19-5 12-12-12-14 19-1-7 15 16 2-9-17 18 0-9 17 22 3-13-20 20 1-7 19 22-6-15-13 15 0 13 5-13 8 0-13 10-6 3 11 10 16-23-8 1 19-23-13-14 14-8-17-10 14-6-16m-263-95l14 1-7 15 9 16 8-15 11 16 9-17 20 2-8-15 14 1 14 1m-70-4l14 1 14 0 14 1-12 13 12 21 13 12 5-16 8 15 9-16 8 16-17 0-13 1-13 12 0-24m-42-36l10 16 4-15 16 14-2-14m-713 2l12 25-19 7-17-7-16-7m66-15l11 24-9 21m755-45l10 14 18-12 3 19 23-2 16-14 5 17 9-16 14 1-5 16-9-17-14-1-14-1-2 15-12-16-11 18-7 19-10-11m-14-29l14 1-4 13m4-13l14 1 14 1 14 1m-308 0l10 20-19 1-19 0-16 2-17-7-12 19-10-16-10 21-20-3 5 20-16-5-7-16-10 15-9-16-10 16-9-15-8 16-12-13-6-16m-289-22l-10 19 9 17m1-36l10 22 2 18-9 13-20 10 7 19-18-2-9-17 20 0 18 8 7 16-18-5 11-11 17-1-10 17-13 10 11 12-15 16-23 6-23-1-19 1-8 17-11-16-8 19-11-18-9 15-10-16-10 16-10-16-9-15-8-17-14 15-20-13m1764-102l-3 19-14 20-10 16 20-4-10-12-10-16 11-20 13 16 6 17 12-1-2 14-10-13-10 15-7 10 13 6 20-3-8 9-12-6-6-16 20-2 19-13 24 1 10 16-19-1-15-16-16-11 2-19-21 13-24 4-13 26-12-5m93-43l6 19-15 16-2 18-11 10 5 15-4 23-17-7 11-7-4-11 14 2 14 20 20 1 21 1-12-17-10-16-10 14-9-16-14 13-13-6m-976-71l8 18 9 17 18-1 18 0 16 1-6 14-10-15-8 15-10-15-8 17-10-16-9 17-11-16-6 18-14 12m260-66l14 14 14-12 14 1 2 22 12-20 6 22 8-21 11 19 16-17 14 1-11 20-3-21-13-1-14-1-14-1-14-2-11 12-3-13-14-1-14-1m-219 1l16 1 17 1 20-1m-53-1l-10 17-15 0 4 18m254-35l0 13-19 2-18-1-21-3-11 20-12-18m-228-11l8 21-18 6m1051-26l13 12-15 7-19-6m78-13l-17 1-11 13 9 17 19 0 9 17 9-16-8-17-10-15 18 0m-18 0l-9 15-10 16-9 15-17 2-17-5-14 18m59-60l8 14 9 16 18 1m-1868-30l14 19 20-11 18-3-8 14-10-11-3 16-17-5m777-18l-17 8-14 9m31-17l12 11m328-11l-3 18-11 22-10 19-8-19-11 20 0 26 18 4 18 3 17 4-3-18m20-77l7 21-9 21-11 16-10-19-10 18-8-19-18 0-16-1 5 21-16-9-11-11 11-15 11 14 8-21 8 22 10-20 8 20 18 1 21 3 4 16m-2-58l14 2-7 19 11 17-6 14 19 5-16 6m-1-61l13 17 17 4-5 14-8 20-6 22 25-5-19-17 26-4-7 21 20-2-13-19 21 3-8 16 17-2-9-14 18 2-9 12 17 5-8-17 17-2-9 19 24-4-15-15 17-5-2 20 18 4 17-8-18-9-17 13-10 18-14-14-18 10-16-13-4 24-16-22-4 16-21-11-22 11-20 5-8 13-9-17-11 14-7-17-8 12-10-16-6 23-13-18-9 18-9-16-8 13-11-12-6 17-10-15-11 14-5-21-15 20-8-18-10-16 20-2-10 18-20 0-9 15-8 13-10-13-7 18-12-18-10 16-12-18-7 19-11-13-8 15-8-17-10 17-11-18-6 19-13-11-1 17-17-10 1 18-21-13-14 14-9-16-10 16-10-17-10 15-9-15-10 15-10-19-16-14-3 17-10-12-5 10-11-13-10-16-10-17-10 16-9-18-14 19-7-23m582-65l14 1-1 16-9 19 13 19m-186-54l9 21 12-18 8 18 10-17 10 16 9-18 17 1 13 10-19 7-11-18m125-2l14 1 14 2 14 1 14 1 13 18-10 16-9 14-7-14-14 11-18-16-21 1-20 4 14 10m-534-48l7 20 8 17 19 2 19 0 17-2-4 18m498-55l15 13 0 16 0 20m-15-49l-15 15 12 18 18-4 14 9 16 0 9 16 7-14-6-18 21 8-5 22-10-12-16-2-12-17 22 1 15-15-14-2-14-1-9 17-18 8-13-10-2-19m-715 1l7 18-18 2-20 1-18-1-18-1-18 2-15 4 2-19m-209-5l25 2 20 3m855-5l-6 17-20 0-20 1-20 0-20-1-19 1-18-1-19 2-8 17 19-2 10 17 8-18 11 17 7-17 11 15 8-15 8 13 11-12 7 19 13-19 12 18 8-20 17-2 5 1-11 12 6-13-6-13m142-17l1 11 13-10 5 18-4 17m-858-35l1 17 13 6m154-23l-11 17-9-16-11 19-16-4m47-16l8 16 11-16 8 17 10-16 8 17-18-1-19-1-19 1-20 3m1298-20l16 2 19 1 19 0 17-1m-621 0l-1 17m-602-15l-10 13-19-1-20 5m666-17l6 23 12 17 15 7 1 17-9 13-9-17m-16-60l14 1-8 22-15 10m23-32l16 21 22-6 4-11 14 1-18 10-3 19-16 12-3-25-12 18m-4-39l14 1 2 20-24 1m22-21l14 1 10 13 16 9-5 18-12 13 23 0-11-13 14-3-3 16 16 6 4-17-20 11-12 15-11-15-6 22-11-14m8-61l-12 19 19 13 2 21m-9-53l14 2m-1282 0l-13 5m1060-5l18 2 19-2 7 23 12-19 9 22m-28-26l19 4 18 1 20-2m30-2l-13 6m13-6l18 8m107-8l14 1 14 2 13 1 14 1 12 18 16-15 8 14 20-12 14 2-2 13 16-12 14 1-14 20 0-21-14-1m-125-12l-2 19 9 15 17 5 13 13-17 4-11 13-5-19m10-49l-16 18-19 10 14 8m21-36l4 19-11 14m-1022-32l9 19 8-15m1026-3l-10 17 6 19 15-1 12 1-14 13 2-14 2-16-17 17m4-36l13 19 0-18m-1089 0l7 20-11 16 5 16-16-1-23-9 10 20-4 20-14 19-7-19-12 14-8-19 14-11 6 16 9-18 12 18 7 24 10-16 10 13 6-19 12 19 8-18 10 18 9-17 10 16 13-16 5 16-18 0-19 1-18 0-18 0-20 3-21-5-19-5-23-3-5 15-18-9-14 17-9-18-9 18-10-17-11-16-8 17-10-16-9 17-10-17-9 16-10-15-10 15-20 0-10 18-19 11-12-14-9 16 8 16 13-18 3-17-8-12-7 15-9-15 8-15 8 15 7-12 16-5-2-19m1366-63l14 1-2 17-1 19-11 13-18-3-9 18-8-14m35-51l-14 17-23-2-20-1m-1267-13l11 13m1327-13l14 2 14 1-6 13-9 17-9 17-18-1-9 15-9-18m-458-44l-8 17-5-16m13-1l9 17-8 16 9 15 9-15 10 15-19 0-20 0 11-15-9-16-11 15-12 17-20-7-2-15-17 6-21 0-20 1 11 15 9-16 9 15 17 2-5-17-12-16-9 16-10-15-10 16-7-14-13-9-20 8 2 18m109-36l14 12-11 17 6 19 21-1-9-16-7-19-20 2-7 12 16 3-9-15-18 0-6 18m588-32l14 1-6 26-12 19-20 1-7-14 16-3 23-3 7 20-19-1-11-16-15-16-26-1 10 17 15 3m-1130-32l3 17-6 11 4 17 11-15-9-13-17-1-8 20-23-4 7 15-5 13-12-11m1230-49l12 15-18 11 17 5 9 14-19 1 10-15 17-7-8 21 19-2-11-19 20 0 8-18-14-2 6 20 13 18 5-21 18-12 14 1 2 16 12-14 14 1 13 2 14 1 3 16-17-17-5 27-16 21 19-2-6 14-13-12-22 14-23 1-19-1-22-1-17 7-15-2-18 0-19-4-4 18-20 2-21-2-16 1-15-5-16 15-18-13-15 9-17-6-17-3-10 16-16 0-15 6-16 9-13-13-15 0-17 1-19 1-15 2-18-6-11 17-22 0-21-1-14-3-16 6-22-4-18 5-18-5-21 1-8 17-10-16 18-1 11 16 10-17 9 18 9-13 8 13 10-18 10 22 12-18 5 17 13-9-18-8-9-16-13 12-1-24-9-20-19-2-11 15-7-16-9-16-9 16-10-16-9 16-10-16-12 14-20-14-14 18-8-17-13 16-22-13 3 21-16-9-2 16-14-14-6 19 3 16-17-2-19 0-20-2-19 0-19 0-20 0-16 5-17-1-19-2-19 0-22 2-16-7-19 5-20-4-19-3-8 21-16 3-11-6-18 1-19 12-15-11-19 1-22-4-24 5-15 13-21-11-12 15-9-17-11 14-4-15-13 8-19 8-17-19-6 20-12-12-10 14-6-17-10 12-7-13-8-17-18 0-18 0-19 3-20-3-20 0-20 0-8 17-12-15-3 17-16-6-21 2m233-123l14 12-8 18-15-17-2 18m1293-27l14 1 14 2-4 24-14-12 4-14m-14-1l10 15-18 3-9 19 22-1 16 7 15-3-12-13-19 9-13 18-16 16-7 18-10-11-7 13-8-15-6 14-12-14-9 4-14 10-7 8-6 11-7-17-11 14-10-16-8 15-8-14-10 12-5-17-18-8-16 10-1 18-14-9-12 10-5-16-10 14-7-17-8-17-3-18 1-15m-928-35l5 20-23-14 5 23-11 9-4 13 4 19-16-12-17 10m57-68l-18 6-20 3m38-9l17 3-12 17m-180-19l16 11 11-9 7 14 6-13 14 13m-54-16l-15 7 14 15m1394-22l16 17-8 20 19-1 7 18-2 21-20-7-16 20-7-19-15 15-4-16-13 12-9-13-19-11-13 16-9-18-9 18-1 21-22-7 7 21 7 23-20-8-12 10-6-13-10 14-8-16-7-16-18-2-21-2-19 5-13 13-1-22-2-21-15 15-6-18-11 15-19-1-7 17-5 12-4 17 1 21m328-149l14 2 8 14 19-11m-1421-4l13 1m711-1l18 4 17 0 10 16 19-1-9 16 19 0-10-16 19-1 18-2-7 17 13 16 7-20 3-15-16 2 13 13-20 4-11-15-9 17-10 16 9 16 7 18 12-16 20 1 21 1 17-5 17 3 22 0 16-7 15 5 20 3 20 0-12-13m594-57l13 6 13 6m27-12l6 15 19 2 9-14 10 16-19-2-8-12m-374-4l14 14m-14-14l-24 1-16 16 4 16 9 16 10 16 10 8 8 17 13-7 14 1 17-2 16-5 17 4 22 4 21-1-5-19-12-15-11 16-6-16-13 15-6-17-9-17-8 15 1 18m-628-63l11 12m-11-12l-18 2-19 1-17 2m776-5l-6 13-20 0-20 7-3 16-10 13-6-20m-1273-28l15 22-6 22-10-11m1-33l-23 1m23-1l23 2 11 12m433-14l17 7m-617-6l21 1m1336-1l-1 16m1-16l16 9m-734-8l23 1m836-1l14 2-11 14 23 1 4 17-7 12-14 0-13 11-12-12-3-19 17 11-14 8m30-43l12 15 2-14 14 2-16 12-11 15-6 14 5 15 9-15 14 0-5 15-9-15-8-14-17 5 11 9m5-44l14 1m14 2l14 2 14 2 14 1 4 13 15 7 21-2 17 3-7 15-10-18-9 18-12-16-17 9 2-16 10-11 14 2-9 16-4 17-13-8-17 7-18 12-14-12-7-12-15-2-12-16-22 10-23 3-11-19m95-5l6 25-11 16m-569-40l-19 9-25 1-18-7m62-3l-1 20 17-11m572-8l-8 23 21 16 0 18-18-6-19 3-18 0-18-4-18 2-15 9-15 12 16 3-1-15 19 9-4-18m78-52l15 17 17-1m-18-14l1 15-2 22 17 13 0-20-15-15 13-14 14 2 5 18m-136-20l14 16m-14-16l-9 19-11 14 18 4m-1133-35l-6 18-12 16-9-17-10 16-9-16-9 15-19 1-7 19 19 7-2-14 16 3 19 2 19 0 18 0 18-1-12-18-20-13 4 18m2-36l-18 1-9 16 21 1 17-5 3 18m-14-31l11 13 7-13-18 0m18 0l9 16 9 17-10 16 17 1-7-17 10-14 9 15 19 0 19-1 21 2 12-7 14 1 21 6 23-1 20 1 10-16 12 18 8-18 9 14 10-13 8 19 9-17m-252-22l20 3 8 16-19-3-16-3m-84-12l9 16 10-15-19-1m37 0l-18 1 8 15 19 0-9-16 18 0 12 17m-30-17l-10 16-18 0-10 16 10 12m1344-43l12 14 15-10 2 13 13 10-20 5-19 0-16 1-13 12-17 5-11 16-7-22-10 17-9-14-8 21 0 25-19 4-21 3-23-1-16-6-14 3-10 16-7-15 17-1 11 14 3-17-7-13-7 16-7-12 3-17-19 13-3-17-18 14-15-13-7 16-10-14-8 14-6-15m271-65l13 2-1 12m-675-13l-13 18-8 16-12-13-20 8m53-29l4 19-6 14-11-15 17 1 12 12 2-20 17 15m-35-26l18 11-14 8m811-19l-7 15 16-4m-849-10l-21 8 13 12-4 15m12-35l-8 20 20-3-12-17m579 0l-5 21-2 20-14 20-18 6-10 12-9 12m180-91l14 2 14 1 1 22 20 0-10 16-10-16-8 23-12-18-10 16-9-16-9 15-7-14m-73-30l22 13 3 28m102-39l-12 12m12-12l14 2-13 20m-1454-20l14 10-13 12-12 19m11-41l1 22 8 20 10-16 9 17 11-18 12 18m1416-43l7 20 3 19 14-12 13 12 5-15 11 16 9-15 9 16 8 15 18-1-11 17-7-16-10 16-17 1-20 3-20-5-19 2-15 3-16-4-22 3-19-3-9 15-17 2-18 0-20-3-10 22-9-18-7 14-14-11-13 11-10-12-19 11m225-103l14 2-7 18m-910-17l-14 8-7 14-10-16-7 13 4 19m34-38l1 21 2 20m804-41l-23 6-18 4m-1557-9l2 19-17 6-9 13-22-2-6 17-9 12m148-64l12 17 9-17 8 17 10-15 5 15-15 0-17 0-16 1-12 13 10 19 10-16 13 17 5 19 13-10 6 14-19-4-19-2-10 17-8-17-9 15-9-15-6 15-13-12-13 12-7-15-9 16-11-16-9 17-11-17-10-16-11-17m246-32l-13 11-16 2-15 2m44-15l0 21 0 18m0-39l12 14-12 7-13-10m89-11l-10 17-9-16-11 17-5-16m35-2l9 16-19 1-20 1-18-4-12-13m1140-1l-10 17-9 15-18 1-6 19 13 6 14 13-20-2-18-3-18-1-9 12-9-14-7 17-14-19-7 22-12-17m130-66l9 18 10-17 12 19 2 18m5-38l-7 20-22-2-19-1 10 19m38-36l11 13-18 7m-718-19l-7 13-7-11m14-2l7 16 9-15 9 16 8-16 11 16 9-16 13 18 7-18 11 12-18 6-22-2-19 0-18-1-14-3-18 4-11 17-15 11m214-45l-8 15-13-14-19 14-15-13m55-2l11 15 9-15 10 15 9-15 9 16-18-1-19 0-19 0-12-2 0 16m524-29l-9 15-18-1-18 0-19-1-17-4-17 7-20-1-19 1-17 3 3-17m151-2l10 16-19-1-8 17 14 17m133-49l-8 16-7-13m15-3l8 13-4 18m314-31l-7 17 16-6-9-11m-973 1l1 12-20 2-22 1-17-3m353-7l-5 16-17-5-8 18 22-2-14-16m22-11l8 18-13-2-3 11 16-9 13-7 3 13-16-6 4 16-20-7-12 17-10 16-10 16-9-15-8 15-7-13-11 12-7-18-14-11-5-18-14 20 0 26-17 16-16-6-2-14-9-11-7 17m315-73l3 16 3 20 18-13-3 18m-791-40l9 20-21-13-12 14-9-16-10 16-9-15-12 19 1 24 10 19 9-16 6 15 14-11 17 12 2-17-7-16-12 21-1 24-13-13-15 1-18 2-9 16-7-13-13 9-16-14-2 18-17-6-19 4-15-14-13 11-9-15-7 18-17-13 2 16m227-86l-5 19 26-13-1 17-25-4-23 2-10-1-19 0-21 4-7-19-12 16 19 3-17 15 18 9 13-13 6 16 11-16 9 20m706-54l15 7-12 11-23-7-20-6m40-5l-20 11-17 7-12 10-14 11-11 14-9 16-8-15-10-15-9 16-13-16-20 12 0-20-19-9m400-22l17 2 19 2 17 0 16-3m-1375 0l-8 17-8-16m16-1l10 16-5 18m12-34l-7 16 18 12 13 17-18-2m-6-43l9 12 17 0m-11-12l-6 12 2 16m85-28l16 0m434 0l2 18-7 18-10-13-9 13-5-15-13-13-18-6-17 4-22-2-11 18-9-19-9 14-14-13m752-4l-14 12-20-9-11 14 0 17-17-12-11-19-10 16-7-13m90-6l7 19 13 17 8-17 13 19m-1311-37l21 2 19 0 15 0-6 15-9-15-9 16-10-16-9 16-12-18-7 19-10-13m1306-6l-12 18-21-7-15 12 2 23m46-46l9 18 9-18 10 18-19 0-21 0m-677-17l0 16-17-12-12 14-21 2-18-5-15 4-10 15-13 19-18 10 14 7 4-17 11 15 11-17 7 15 12-15 7 16 12-14 8 15 9-14 9 13 7-18 12 20 1 20m616-89l-8 20-21-3-19-2-11 16 9 17 17 1 15 2-6 14-9-16-9 14-8-15-9 15-7-15-14-16-1 22 10 6 12 3 17 0 18 2 19-2-13-12m18-51l9 15-17 5m-1153-19l14 11-20 4-18 1-19 0-19 1-19 0-11 15-17 0 7 18m721-50l-12 15 13 19 9-17 14 19m-24-36l10 17 8-16 12 16 7-16 9 14 13-12m503-3l5 21-16-7m-754-13l-2 15 2 13-12-14-9 15-10-15-7 15-14-11m223-18l3 19-14-2m11-17l20 14-17 5m1130-19l-12 15-18-1-16-1-14 13-11 19-9 16-10-14-6 14-9-11-7 13-9-17-8 20-14-17-13 11-6-14-9-15-10-14m181-17l3 17-7 13-18 0-9 17-6 16-14-13-14 12-6-17-13-17-6 19-14-11-17 10-14-16-8 19-3 23-10-12-15 1-8 16 17-2-9-14-9-14 18-1 9-16 10 19m143-49l16 9-13 8 11 12m-73-28l-1 25 9 24 0 24 9 20m-1150-92l4 17-16-3-5 19 16-6m36-25l-18 10-13 5m558-13l-9 24-20-7 3 17-13 8-6 14-9-14-7-15-10-15-10 16-10-16-12 16-2 18m105-46l12 23-21 1-8-17m-1005-5l-16 4-18 1-20-3m950 0l3 16 12-11 8 19-20-8-14 9-19 2-8-20-14 14-20-12-12 15-9-16-11 19-21-4-18-3-15-3-17 5-22-2-19 1-19 2-18 0-17 1-14 6-16 8-18 3-9 13 9 14 9-15 9 15 7-13 15 15 0-24-6-16 11 8 3-14 8 14 9-15 9 16 9-16 10 16 9-18 10 17 9-18 9 17 13-15 4 18 11 12 6-18 15 17 3-17-7-14-11 14-21-12m677-22l8 21 10-17 10 21-20-4-22-1-9 19-12 17-3 15m206-71l-18 7-22-2-18-1-20-2-7 19-21 2-17-5-17 7-14 13-5 16-11-16-10 19 1 18m179-75l13 3-11 15-20-11-14 12-3 17m35-36l2 18-20 8-1 14m-59-38l11 18 9-16 9 16 9-15 8 14-17 1-18 0-18 1-9 16-8 16-9 15-9-15-10 16-10-19-14-12-6-17-10 17-12-18m-1198-17l-14 11-14 9-6 14-7 17-12-15-12-15-7 15-11-15-7 15-11-15-6 16-14-13 0 17-5 17 17 7m109-65l5 19 14-17 8 17 11-17 9 16 9-16 9 15 9-16 6 14 11-13 2 18-13-5-15 2-18 1-20 1-22 0-19-8-1 17-2 18-17-12-12-14-7 16-19 0-18 0-17 1-14 4-18 0-6 25m328-66l-21 15-21 1-17 0m59-16l-3 21-11 10m14-31l15 19 9 17 13-19 6 19 11-13 8 15 12-16 5 17m-39-39l-3 17-12-13m1185-4l13 13-24 2m38-15l6 17-11 20m-1062-36l22 2 20 0 16-2m244 0l3 17-16 5-4-17m798-5l-10 16 9 17 9 15 8-16 17 0 18 3m-51-35l8 16 8 16 7 14 10-14 7 20-21 12-11-16-15 1-14 11-14-12-15-1-16 0-16 2-17 3-17 6-16 3 6-15m144-45l15 2m-15-2l-10 15-18 0-20-4m-619-10l6 18 4 14m565-31l0 19-14-7m-1107-11l-21 12-22 2-18 2 5 17m56-33l-4 18-17-6m21-12l16 17 21 12m-651-28l10 12-17 0-16 0m1500-5l-1 18-22 3-18 0-19-8-15 14-13 15 2 15m-1179-56l-10 14-12 12-13 12-6-16-11 15-18 0-17-2-15 0-14 12-15 17-2-16-11-12-20 1-19 0-15 2-11 13-5-19m214-33l7 16 12-11 3 22 13 17 2 22m676-66l4 17-17 6-17-3-18 1-19 1-19 0-18-1-11 0-5 8-22-8-9 15-9-12m-312-23l-6 16-16 17-20-11-14 12-4 15m142-49l18 6m1077-6l-1 17-16 15m-1175-30l-9 14 2 17m7-31l9 14 2 16-2 15-18 4m771-49l-17 10 16 12 6 23 17 18m-802-62l-9 19 1 23-7 15m15-57l9 13-18 6-11-18-11 16-11 15-1 17-12-6-16 3m682-46l22 6-14 11-7 14-12 11 0 16m11-58l-7 16-6 12m13-28l8 17 14 15 14 14 8-14 18 1 18 1 17 0 18-1 18-2 19-1-11 14-8-13-8 17-10-15-10 16-8-15-11 15-6-15-11 15-7-16-10 15-8-16-7-14 18-3m-708-14l-20 9-13-8m33-1l-6 16-16 11m22-27l11 16 8 14m69-29l-19 11-18 0m37-11l-2 19 20-10m474-9l-11 11-18 0m29-11l4 18-18 10m204-28l-20 1-22 0m42-1l18 1 17 6 0 21 2 19 20-5-22-14m354-28l-10 14-11-13m21-1l6 15 7 18m97-33l-18 12 4 18 10-13 8 13 9 14m-13-44l-4 17-14-5-16-10m34-2l12 14-16 3m-644-16l-20 3-17 14 0 15m37-32l16 2-6 12-10-14-6 15-14-12m-349-2l-20 1m462-1l-4 14-15 14 0 24m-38-51l9 11 8 15 4 17m517-43l9 13 11 18m-1321-30l-18 17-15-11-17-2 9 19-21-7 3 15-16-3-17-1-9 18-9-18-9 16-8-18-9 16-6-16m943-25l15 12m349-10l7 22-15 15m-1051-35l-19 6-19 2-7 12 19 3m26-23l14 7 6 15m-159-20l-8 17-18 8m254-24l17 8-15 8m498-16l15 7 18 10m496-17l21 3 16 4 14-4 16 1 19 1 21-1 16 0m-123-4l-12 19-9 17-10-16-12 17-9-20 12-14 9 17 9-17 10 16 10 16 10-16 8 16 11-15-6-17-13 16-8-19m-805 3l-8 20-19-2-18 1-20-1-19-1-18 2-15 2-11 11-21-6 18-12 3 18m128-32l13 19 6-19 10 13 9-13 9 20 0 22m177-42l-9 17-10 15-8-15-11 15-8-14-9 15-14-14-21 14m90-33l10 16-10 16-9-15-9-16-9 16-10-15-9 16-10-16-13 17-1 17m199-36l-15 1-16 1m31-2l15 1m-667 0l17 0 22 2m372-2l7 17-16-2-18 1-8-15-10 15-9-15-11 18-18-7-16 6-21 1-13 12-6-14-10 15-8-14-14 18-6-19-11 12-8-13-9 17-9-15-9 15-6-13m267-20l-16 8-15 9m31-17l5 18-21-10m559-8l-11 15-16-4-16 3-21 3-25-4-11 23-8-21-9 12-3 15m120-42l7 17 11-14 7 17-18-3-18-2-13 13-19-14-2 17-19-14-13 16-12-20m-992-12l-8 15-9-14-6 13-8-9m31-5l13 17 5 17m0-34l-5 17-21-2-15-1m41-14l12 12 4 16m-220-27l-1 24 8 20m808-44l-7 13-19 1-18 0-19 1-23 1m687-15l-10 13-19-1-20 0-19 1-21-3-22-8m-938-1l-4 14m4-14l12 11 12 17 6-19 10 12 5-13m-275-6l-23 6m1126-1l3 17m-640-16l1 17-17-11-7 14-14-13m1169-7l-15 2-10 16-5-15m30-3l17 6m-17-6l-4 18m-1515-17l-17 5m925-5l-16 14 25 2 8-16 9 14-17 2-9-16m522 0l-4 18-12-16-6 15-11-12-5 21-12-15-6 15-10-12-7 15m73-29l10 13 6-13 9 15-15-2-14 5m-1655-17l-16 1-7 18-13-17-8 16-11-16-8 16-7-14m70-4l-5 13-18 6m23-19l12 12-17 1m1695-13l-6 14 20-2 19 4m-1069-14l-20 3-17 10m37-13l18 0-10 15-8-15-7 15-13-12m582-2l4 18m-620-17l5 16m-277-9l8 17m84-17l-16 7m16-7l18 0-14 15-4-15m18 0l7 19m-433-18l20 4m249-4l-2 16m1390-16l5 14m30-14l-11 17m-1330-16l20 4m-20-4l-11 16m11-16l8 19m717-19l-16 4m16-4l13 5m-13-5l-3 16m36-16l-14 18m56-18l17 9"/></defs><use href="#msh" stroke="#2a3644" stroke-opacity="0.34" stroke-width="5.6"/><use href="#msh" stroke="#141e2b" stroke-opacity="0.82" stroke-width="1.9"/></g><path d="M604.8 253.7L605.5 248.8L607.6 244.3L610.2 240L613.1 235.9L616.4 232.1L620 228.7L623.9 225.6L627.9 222.6L632.1 219.8L636.3 217.2L640.7 214.8L645.1 212.5L649.7 210.4L654.2 208.4L658.8 206.4L663.5 204.7L668.2 203L672.9 201.3L677.7 199.8L682.4 198.4L687.2 197L692 195.6L696.9 194.3L701.7 193.1L706.6 191.9L711.4 190.8L716.3 189.8L721.2 188.7L726.1 187.8L731 186.9L735.9 186L740.9 185.2L745.8 184.4L750.7 183.7L755.7 183L760.6 182.3L765.6 181.7L770.6 181.2L775.5 180.6L780.5 180.2L785.5 179.7L790.5 179.3L795.4 178.9L800.4 178.6L805.4 178.3L810.4 178L815.4 177.7L820.4 177.5L825.4 177.3L830.3 177.2L835.3 177L840.3 176.9L845.3 176.9L850.3 176.8L855.3 176.8L860.3 176.8L865.3 176.8L870.3 176.9L875.3 177L880.3 177.1L885.3 177.2L890.3 177.3L895.3 177.5L900.3 177.7L905.2 177.9L910.2 178.2L915.2 178.4L920.2 178.7L925.2 179.1L930.2 179.4L935.2 179.8L940.1 180.1L945.1 180.5L950.1 181L955.1 181.4L960 181.9L965 182.4L970 183L974.9 183.5L979.9 184.1L984.8 184.7L989.8 185.4L994.8 186.1L999.7 186.7L1004.6 187.5L1009.6 188.2L1014.5 189L1019.4 189.8L1024.4 190.7L1029.3 191.5L1034.2 192.4L1039.1 193.3L1044 194.3L1048.9 195.2L1053.8 196.2L1058.7 197.2L1063.6 198.3L1068.5 199.4L1073.3 200.4L1078.2 201.6L1083.1 202.7L1087.9 203.8L1092.8 205L1097.6 206.2L1102.5 207.4L1107.3 208.6L1112.2 209.9L1117 211.1L1121.8 212.4L1126.6 213.7L1131.5 215L1136.3 216.3L1141.1 217.6L1145.9 218.9L1150.7 220.3L1155.6 221.6L1160.4 222.9L1165.2 224.3L1170 225.6L1174.8 227L1179.6 228.3L1184.4 229.7L1189.2 231L1194 232.4L1198.8 233.7L1203.6 235.1L1208.5 236.4L1213.3 237.8L1218.1 239.1L1222.9 240.5L1227.7 241.8L1232.5 243.1L1237.3 244.5L1242.1 245.8L1246.9 247.2L1251.8 248.5L1256.6 249.9L1261.4 251.2L1266.2 252.6L1271 253.9L1275.8 255.3L1280.6 256.7L1285.4 258L1290.2 259.4L1295 260.8L1299.8 262.2L1304.6 263.7L1309.3 265.1L1314.1 266.6L1318.9 268.1L1323.7 269.6L1328.4 271.1L1333.2 272.6L1337.9 274.2L1342.6 275.8L1347.4 277.4L1352.1 279L1356.8 280.6L1361.5 282.3L1366.2 284L1370.9 285.7L1375.6 287.4L1380.3 289.2L1384.9 291L1389.6 292.8L1394.2 294.6L1398.9 296.5L1403.5 298.4L1408.1 300.2L1412.7 302.2L1417.3 304.1L1421.9 306L1426.5 308L1431.1 310L1435.7 312L1440.3 314L1444.8 316L1449.4 318L1454 320.1L1458.5 322.1L1463.1 324.2L1467.6 326.3L1472.1 328.3L1476.7 330.4L1481.1 332.6L1476.2 332L1471.2 331.4L1466.3 330.7L1461.3 330.1L1456.4 329.4L1451.4 328.8L1446.5 328.2L1441.5 327.5L1436.6 326.9L1431.6 326.2L1426.6 325.6L1421.7 325L1416.7 324.4L1411.8 323.7L1406.8 323.1L1401.9 322.5L1396.9 321.9L1391.9 321.3L1387 320.8L1382 320.2L1377.1 319.6L1372.1 319.1L1367.1 318.5L1362.2 318L1357.2 317.4L1352.2 316.9L1347.3 316.4L1342.3 315.9L1337.3 315.4L1332.4 314.9L1327.4 314.4L1322.4 313.9L1317.4 313.4L1312.5 313L1307.5 312.5L1302.5 312L1297.6 311.5L1292.6 311.1L1287.6 310.6L1282.6 310.2L1277.7 309.7L1272.7 309.2L1267.7 308.8L1262.7 308.3L1257.8 307.9L1252.8 307.4L1247.8 307L1242.8 306.5L1237.9 306L1232.9 305.6L1227.9 305.1L1223 304.7L1218 304.2L1213 303.8L1208 303.3L1203.1 302.9L1198.1 302.4L1193.1 301.9L1188.1 301.5L1183.2 301L1178.2 300.6L1173.2 300.1L1168.2 299.7L1163.3 299.2L1158.3 298.8L1153.3 298.4L1148.3 297.9L1143.4 297.5L1138.4 297L1133.4 296.6L1128.4 296.2L1123.5 295.8L1118.5 295.3L1113.5 294.9L1108.5 294.5L1103.5 294.1L1098.6 293.7L1093.6 293.3L1088.6 293L1083.6 292.6L1078.6 292.2L1073.7 291.9L1068.7 291.5L1063.7 291.1L1058.7 290.8L1053.7 290.5L1048.7 290.2L1043.8 289.8L1038.8 289.5L1033.8 289.2L1028.8 288.9L1023.8 288.7L1018.8 288.4L1013.8 288.1L1008.9 287.9L1003.9 287.6L998.9 287.4L993.9 287.2L988.9 287L983.9 286.7L978.9 286.5L973.9 286.4L968.9 286.2L963.9 286L959 285.8L954 285.7L949 285.5L944 285.4L939 285.3L934 285.1L929 285L924 284.9L919 284.8L914 284.7L909 284.6L904 284.5L899 284.5L894 284.4L889 284.4L884.1 284.3L879.1 284.2L874.1 284.2L869.1 284.2L864.1 284.1L859.1 284.1L854.1 284.1L849.1 284L844.1 284L839.1 284L834.1 284L829.1 284L824.1 284L819.1 284L814.1 283.9L809.1 283.9L804.1 283.9L799.1 283.9L794.1 283.9L789.2 283.9L784.2 283.9L779.2 283.8L774.2 283.8L769.2 283.8L764.2 283.7L759.2 283.7L754.2 283.6L749.2 283.6L744.2 283.5L739.2 283.4L734.2 283.4L729.2 283.3L724.2 283.2L719.2 283.1L714.2 282.9L709.3 282.8L704.3 282.6L699.3 282.5L694.3 282.4L689.3 282.3L684.3 282.1L679.3 281.8L674.3 281.5L669.3 281.1L664.4 280.7L659.4 280.3L654.4 279.7L649.5 279L644.6 278.1L639.7 277.2L634.8 276.1L629.9 274.9L625.1 273.5L620.5 271.6L616.2 269.1L612.1 266.2L608.7 262.6L605.8 258.6L604.8 253.7Z" fill="url(#fg)" stroke="#5a677d" stroke-width="0.7"/></g>
<g font-family="'Liberation Serif',serif" fill="#231f20">
<text x="479.2" y="449.3" font-size="42.1" textLength="1137.8" lengthAdjust="spacing">Profil NACA 6412 et maillage utilisé pour la simulation numérique</text>
</g>
<g font-family="'DejaVu Sans','Liberation Sans',sans-serif" fill="#231f20">
<rect x="443.5" y="517.6" width="1232.75" height="812.80" fill="#fff"/>
<path d="M587.55 517.6V1330.4M764.04 517.6V1330.4M940.53 517.6V1330.4M1117.02 517.6V1330.4M1293.51 517.6V1330.4M1470.00 517.6V1330.4M1646.49 517.6V1330.4" stroke="#b0b0b0" stroke-width="2.78" fill="none"/>
<path d="M443.5 1265.50H1676.25M443.5 1104.60H1676.25M443.5 943.70H1676.25M443.5 782.80H1676.25M443.5 621.90H1676.25" stroke="#b0b0b0" stroke-width="2.78" fill="none"/>
<clipPath id="cp1"><rect x="443.5" y="517.6" width="1232.75" height="812.80"/></clipPath>
<g clip-path="url(#cp1)" fill="none" stroke="#231f20" stroke-linejoin="round">
<path d="M629.1 1204.8L640 1208L652.2 1209.4L663 1208.5L674.4 1205.7L687 1200L700.3 1194.6L718.8 1185.4L737.3 1172.4L748 1163L759.4 1150.2L773 1134L786.9 1118.1L803.5 1097.1L829.4 1067L838.9 1055.1L846.3 1044L857.4 1031.7L864.7 1020.6L870.9 1015.7L878.3 1012L885.7 1000.9L895.6 994.7L901.7 983.7L905.9 977.1L919.7 963.3L932.5 951.4L939.4 944.5L947.3 932.7L957.2 926.8L965.1 915L975.9 909L983.8 898.2L993.7 892.3L1001.6 882.4L1011.4 875.5L1025.2 861.7L1038.1 850.8L1046 842L1049.4 836.8L1067.9 822L1080.8 810.9L1091.9 797L1104.8 790.6L1115.9 783.2L1132.6 766.5L1144.4 762.4L1152.7 751.3L1161.9 753.2L1171.2 742.1L1179.5 742.1L1188.7 733.8L1205.4 727.3L1213.7 713.4L1222.9 720.8L1232.2 706L1241.4 714.3L1249.7 698.6L1259 707.9L1268.2 701.4L1277.4 699.6L1293.2 690.3L1303.3 698.6L1311.6 701.4L1320 683.8L1329.2 689.4L1338.4 691.2L1347.7 689.4L1364.3 680.1L1373.6 678.3L1398.5 679L1417 675.8L1441 679L1479 686" stroke-width="7.0" stroke-linecap="square"/>
<path d="M631 1221.4L651.3 1240.8L654 1226L655.3 1224.2L657.2 1221.6L660 1219L663 1217.2L666.6 1215.3L670.5 1213.7L674 1212.5L677 1212.3L679.6 1212.7L682.5 1212.9L686 1212L688.5 1210.7L691.4 1208.8L694.5 1206.6L697.7 1204.3L700.8 1201.9L703.6 1199.8L706 1198L709 1195.8L711 1194.2L713.1 1192.6L716 1190.5L718.7 1188.7L721.8 1186.7L725.1 1184.5L728.6 1182.2L732 1179.7L735.4 1177L737.8 1174.9L740.3 1172.6L742.7 1170.2L745.2 1167.8L747.6 1165.2L750.1 1162.6L752.5 1159.8L755 1157L757.3 1154.3L759.6 1151.4L762 1148.3L762.1 1148.1" stroke-width="7.0" stroke-dasharray="25.9 11.2"/>
<path d="M762.1 1148.1L764.4 1145.2L766.7 1142.1L769 1139L771.2 1136.1L773.2 1133.4L775 1131L777.7 1127.5L779.9 1124.6L781.8 1122.1L783.6 1119.7L785.5 1117.2L787.6 1114.4L789.7 1111.7L791.7 1109L793.8 1106.2L796.1 1103.3L798.1 1100.7L800.3 1097.9L802.6 1095.1L804.8 1092.3L807 1089.4L809.1 1086.7L811.4 1083.5L813.5 1080.4L815.6 1077.3L817.8 1074.2L820.1 1071L822.2 1068.3L824.4 1065.5L826.6 1062.8L828.9 1059.9L831.4 1057L833.9 1053.9L836.3 1051L839 1047.8L841.8 1044.5L844.6 1041.2L847.1 1038.1L849.4 1035.3L851.2 1032.9L853.2 1029.2L853.8 1026.9L854.9 1024.3L856.8 1021.5L859.1 1018.4L861.6 1015.3L864 1012.5L866.5 1010.1L869.1 1008L871.5 1005.8L873.4 1003.4L874.3 1000.5L874.5 997.2L874.8 993.9L876 991L878.4 988.5L881.7 986.2L885.1 984L888 982L891 979.7L893.5 977.6L895.6 975L896.5 971.8L897 968.2L899.3 963.9L901.4 961.7L904.2 959.2L907.3 956.6L910.7 953.9L913.9 951.3L916.8 948.8L919 946.7L921.6 943.2L922.7 940.6L925.1 936.8L927.1 934.4L929.6 931.6L932.4 928.5L935.3 925.4L938 922.3L940.5 919.5L942.4 917.1L944.8 913L945.9 910L947.3 907.3L949.4 905L951.7 902.9L955.1 899.6L957 897.5L959.2 895.1L961.6 892.4L964.1 889.6L966.7 886.7L969.3 883.9L971.7 881.1L974.1 878.5L976.5 875.9L978.9 873.2L981.2 870.6L983.6 867.9L986 865.3L988.4 862.7L990.8 860L993.2 857.3L995.7 854.5L998.1 851.8L1000.5 849.1L1002.8 846.6L1005 844.2L1007.8 841.1L1010.4 838.3L1012.9 835.7L1015.4 833L1018 830.4L1020.5 827.6L1023.1 824.7L1025.7 821.9L1028.3 819.2L1030.9 816.5L1033.6 814L1036.4 811.6L1039.2 809.2L1042 806.8L1044.8 804.5L1047.5 802L1050.3 799.6L1053.1 797.2L1055.9 794.8L1058.6 792.4L1061.2 790L1063.8 787.6L1066.4 785.2L1069 782.8L1071.5 780.4L1074.1 778L1076.7 775.7L1079.3 773.3L1081.9 770.9L1084.5 768.4L1087.2 765.8L1090 763.1L1092.8 760.4L1095.6 757.7L1098.3 755L1101.1 752.3L1103.9 749.6L1106.7 746.9L1109.5 744.2L1112.2 741.6L1114.9 739.1L1117.6 736.6L1120.2 734.2L1122.8 731.8L1125.5 729.4L1128.2 726.9L1130.8 724.4L1133.4 722L1136.1 719.5L1138.8 717.1L1141.5 714.7L1144.3 712.3L1147.1 709.9L1149.9 707.5L1152.7 705.1L1155.4 702.7L1158.1 700.3L1160.9 697.8L1163.7 695.4L1166.5 693.1L1169.4 690.8L1172.4 688.6L1175.3 686.4L1178.3 684.2L1181.3 682L1184.3 679.8L1187.3 677.6L1190.2 675.4L1193.2 673.2L1196.1 670.9L1198.9 668.6L1201.7 666.2L1204.5 663.7L1207.2 661.3L1209.9 658.9L1212.6 656.7L1215.2 654.6L1217.8 652.4L1220.6 650L1223.8 646.9L1226 644.6L1228.4 642L1230.8 639.1L1233.4 636.2L1236 633.1L1238.7 630.2L1241.4 627.3L1244.2 624.7L1247 622.2L1250 619.8L1253 617.4L1256 615L1259.1 612.8L1262.1 610.7L1265.1 608.8L1268 607L1271.8 604.9L1275.6 603.2L1279.3 601.6L1283 600.3L1286.5 599.1L1290 598L1294 596.8L1297.8 595.8L1301.5 595L1305.2 594.4L1308.9 594L1312.6 593.9L1316.2 594.2L1319.8 594.6L1323.4 595.1L1327 595.5L1330.6 595.7L1334.2 595.8L1337.8 596L1341.4 596.4L1345 597" stroke-width="7.0" stroke-dasharray="25.9 11.2" stroke-dashoffset="26.4"/>
<path d="M1345 597L1348.5 598L1352 599.3L1355.5 600.8L1359 602.4L1362.5 603.8L1365.9 605L1369.2 606L1372.6 607.1L1376.1 608.6L1380 610.6L1382.6 612.3L1385.4 614.3L1388.2 616.6L1391.2 619L1394.1 621.4L1397.1 623.8L1400.1 626L1403 628L1406.3 630.1L1409.5 632.1L1412.8 634L1416.1 635.8L1419.4 637.4L1422.7 638.8L1426 640L1429.3 640.9L1432.6 641.6L1435.9 642.2L1439.2 642.5L1442.7 642.6L1446.2 642.6L1450 642.5L1453.5 642.2L1457.1 641.8L1460.9 641.3L1464.7 640.6L1468.6 639.9L1472.5 639L1476.3 638L1480 637L1483.7 635.8L1487.3 634.4L1490.9 632.8L1494.5 631.2L1498.1 629.6L1501.6 628L1505.1 626.6L1508.5 625.4L1512.5 624.3L1516.5 623.4L1520.5 622.6L1524.4 621.9L1528.1 621.3L1531.4 620.6L1534.3 620L1538.6 618L1541.2 616.2L1545 616L1547.9 617L1551.4 618.6L1555.1 620.7L1558.9 622.9L1562.5 625.2L1565.8 627.2L1569.3 629.4L1572.4 631.5L1575.5 633.6L1578.4 635.7L1581.5 637.9L1584.9 640.2L1588.5 642.6L1592.1 645L1595.1 647.1L1597.2 648.5" stroke-width="7.0" stroke-dasharray="25.9 11.2" stroke-dashoffset="7.6"/>
<path d="M658 1172L659.7 1170.4L662 1168.3L664.7 1165.8L667.8 1163L670.9 1160.1L674.1 1157.2L677.2 1154.4L680 1152L682.9 1149.5L685.7 1147.3L688.5 1145.1L691.3 1143L694.1 1140.8L697 1138.5L700 1136L702.9 1133.5L705.9 1130.8L709 1128L712.2 1125.1L715.3 1122.2L718.4 1119.5L721.3 1117.1L724 1115L727.9 1112.5L731.5 1110.7L734.8 1109.2L738 1107.8L741 1106L743.9 1103.9L746.6 1101.6L749.2 1099.2L751.6 1096.8L753.8 1094.5L756 1091.8L757.8 1089.3L759.6 1086.5L761.9 1083L763.5 1080.6L765.1 1077.8L766.8 1074.9L768.7 1071.9L770.8 1068.8L773.1 1065.7L775.8 1062.7L778.2 1060.4L781 1058.1L784 1055.8L787.1 1053.4L790.3 1051.1L793.5 1048.8L796.5 1046.5L799.3 1044.4L801.7 1042.3L804.7 1039.4L807.3 1036.6L809.5 1034L811.6 1031.4L813.6 1028.8L815.9 1026.2L818.2 1023.5L820.4 1020.9L822.7 1018.3L825 1015.6L827.4 1012.9L830 1010L832.4 1007.4L834.9 1004.8L837.5 1002.1L840.2 999.3L842.9 996.5L845.6 993.7L848.2 991L850.8 988.3L853.4 985.5L856.1 982.8L858.7 980L861.3 977.3L863.9 974.6L866.4 972L869.3 969.1L872.1 966.2L874.8 963.4L877.5 960.6L880.3 957.8L883 955L885.7 952.2L888.5 949.3L891.2 946.5L893.9 943.6L896.7 940.8L899.6 938L902.1 935.6L904.7 933.2L907.4 930.9L910.1 928.5L912.8 926.2L915.4 923.9L918.1 921.5L920.8 919.1L923.5 916.8L926.2 914.4L928.9 912L931.6 909.7L934.2 907.3L936.6 905L939.3 902.3L941.8 899.6L944.2 897L946.6 894.3L949 891.7L951.4 889L953.9 886.4L956.3 883.8L958.8 881.1L961.2 878.5L963.7 875.8L966.2 873L968.7 870.1L971.3 867.1L973.9 864L976.4 860.9L979 857.7L981.6 854.7L984.2 851.6L986.7 848.6L989.3 845.5L991.9 842.4L994.4 839.4L997 836.3L999.5 833.3L1002 830.3L1004.4 827.2L1006.9 824.2L1009.5 821.1L1012.4 818L1014.7 815.6L1017.1 813.2L1019.7 810.8L1022.3 808.3L1024.9 805.9L1027.5 803.4L1030.2 800.9L1032.8 798.5L1035.3 796.1L1037.8 793.6L1040.4 791.2L1042.9 788.7L1045.5 786.3L1048 783.8L1050.6 781.4L1053.1 779L1056 776.3L1058.9 773.5L1061.8 770.8L1064.7 768.1L1067.6 765.4L1070.5 762.7L1073.4 760L1076.4 757.2L1079.3 754.4L1082.3 751.6L1085.2 748.8L1088.1 746.1L1091 743.5L1093.8 741L1097 738.3L1100.1 735.8L1103.1 733.5L1106.2 731.2L1109.2 728.9L1112.2 726.5L1115.4 724.1L1118.5 721.6L1121.7 719.2L1124.8 716.8L1127.8 714.4L1130.7 712L1133.4 709.6L1136 707.3L1138.5 705L1140.9 702.6L1143.4 700.3L1145.8 698L1148.3 695.7L1150.7 693.5L1153 691.2L1155.5 688.9L1158.1 686.5L1161 684L1163.7 681.7L1166.6 679.3L1169.7 676.7L1172.8 674.2L1176 671.6L1179.2 669L1182.2 666.5L1185.3 664L1188.3 661.4L1191.3 658.9L1194.3 656.3L1197.4 653.8L1200.4 651.4L1203.5 649L1206.6 646.7L1209.8 644.5L1212.9 642.4L1216.1 640.3L1219.3 638.2L1222.5 636.1L1225.7 634L1228.9 631.8L1232.2 629.5L1235.4 627.3L1238.6 625L1241.8 622.8L1244.9 620.8L1247.9 619L1251.2 617.2L1254.3 615.6L1257.4 614.1L1260.3 612.8L1263.3 611.4L1266.3 610L1269.4 608.5L1272.3 606.9L1275.2 605.3L1278.2 603.7L1281.4 602.3L1284.8 601L1288 600L1291.3 599L1294.8 598L1298.4 597.2L1302 596.5L1305.5 595.9L1308.9 595.5L1312.6 595.3L1316.2 595.4L1319.8 595.6L1320 595.7" stroke-width="7.0" stroke-dasharray="44.8 11.2 7 11.2" stroke-dashoffset="68.8"/>
<path d="M1320 595.7L1323.3 596L1327.1 596.5L1331 597L1334.7 597.4L1338.6 597.9L1342.7 598.5L1346.7 599.1L1350.7 599.8L1354.5 600.6L1358 601.4L1361.6 602.5L1364.9 603.7L1367.9 605.1L1370.9 606.5L1373.8 607.9L1376.8 609.2L1380 610.5L1383.2 611.9L1386.3 613.2L1389.5 614.5L1392.6 615.8L1395.7 617L1399.3 618.3L1402.9 619.6L1406.4 620.8L1410 622L1413.5 623.2L1417 624.5L1420.4 625.8L1423.9 627.1L1427.5 628.3L1431.3 629.4L1434.7 630.1L1438.2 630.7L1441.9 631.2L1445.6 631.7L1449.3 632.2L1452.9 632.8L1456.4 633.5L1459.8 634.4L1463.1 635.3L1466.6 636.1L1470.3 636.7L1474.4 637L1478 637L1482 636.8L1486.4 636.5L1490.8 636.1L1495.1 635.6L1499 635.2L1502.2 634.8L1504.6 634.6" stroke-width="7.0" stroke-dasharray="44.8 11.2 7 11.2" stroke-dashoffset="69.9"/>
<path d="M605.7 1147.5L606.1 1150.1L606.7 1153.9L607.3 1158.2L608 1162.7L608.7 1166.9L609.3 1171.1L610 1175.6L610.6 1179.9L611.2 1183.7L611.6 1186.3L616 1197L618 1195.9L620.7 1194.5L623.9 1192.8L627.3 1190.9L630.7 1189L633.8 1187.2L637.3 1185.1L640.7 1183L644.1 1180.9L647.4 1178.7L650.4 1176.4L653.2 1174L655.7 1171.5L657.1 1169.9" stroke-width="10.52" stroke-dasharray="38.92 16.83"/>
<path d="M657.1 1169.9L658.1 1168.9L660.4 1166.3L662.8 1163.7L665.3 1161.2L667.6 1158.9L669.9 1156.5L672.5 1153.9L675.3 1151L677.5 1148.7L679.8 1146.4L682.1 1143.9L684.6 1141.3L687.3 1138.6L690 1135.8L692.9 1133L695.3 1130.7L697.9 1128.2L700.7 1125.7L703.5 1123.1L706.4 1120.5L709.2 1118L711.9 1115.5L714.5 1113.2L716.9 1111L720.1 1108.1L722.9 1105.6L725.6 1103.2L728.2 1100.9L730.8 1098.5L733.6 1096L736.2 1093.6L738.9 1091.2L741.7 1088.7L744.4 1086.1L747.1 1083.7L749.7 1081.3L752 1079L754.8 1076.1L757.3 1073.5L759.6 1070.9L762 1068.3L764.7 1065.5L767.2 1063L770 1060.4L772.8 1057.8L775.6 1055.1L778.5 1052.4L781.3 1049.8L784.1 1047.1L786.9 1044.5L789.7 1041.9L792.4 1039.3L795.2 1036.7L798 1034L800.7 1031.4L803.5 1028.8L806.2 1026.2L809 1023.6L811.8 1021L814.6 1018.3L817.4 1015.6L820.3 1012.8L823.2 1010L826.1 1007.2L829 1004.4L831.9 1001.7L834.7 998.9L837.6 996.1L840.5 993.3L843.4 990.6L846.3 987.8L849.1 985L852 982.3L854.9 979.5L857.8 976.7L860.7 973.9L863.6 971.2L866.4 968.4L869.2 965.6L872 962.9L874.7 960.1L877.5 957.3L880.2 954.5L883 951.8L885.7 949L888.5 946.2L891.2 943.4L893.9 940.6L896.7 937.9L899.6 935.1L902.1 932.7L904.7 930.3L907.4 928L910.1 925.6L912.8 923.2L915.4 920.8L918.1 918.5L920.7 916.1L923.4 913.8L926 911.6L928.7 909.3L931.3 906.9L934 904.4L936.6 901.8L938.9 899.3L941.2 896.5L943.5 893.7L945.8 890.8L948 887.9L950.3 885.2L952.6 882.7L954.8 880.5L957.9 878L961.1 875.8L964.3 873.9L967.3 872.3L970.1 871L972.5 870L976.2 869.4L978.8 870L980.5 870.5L982 851.5L983.1 850.4L984.9 848.6L988 845.5L990.1 843.5L992.7 841L995.6 838.3L998.7 835.4L1001.7 832.5L1004.3 829.8L1006.5 827.5L1008.9 824.3L1010.2 821.8L1010.5 821.3" stroke-width="10.52" stroke-dasharray="38.92 16.83" stroke-dashoffset="0.7"/>
<path d="M1010.5 821.3L1011.5 819.3L1013.9 816.5L1016.3 814.3L1019.2 812L1022.5 809.6L1025.8 807.1L1029.2 804.7L1032.4 802.2L1035.5 799.9L1038.7 797.5L1041.9 795.1L1045 792.7L1048 790.3L1050.9 788L1053.6 785.7L1056 783.4L1058.4 781.1L1060.7 778.8L1063.1 776.5L1065.5 774.2L1067.9 771.9L1070.4 769.6L1072.8 767.3L1075.3 765L1077.7 762.7L1080 760.5L1082.7 758L1085.2 755.5L1087.7 753.1L1090.2 750.7L1092.8 748.2L1095.3 745.8L1097.9 743.3L1100.4 740.9L1103 738.4L1105.5 736L1108 733.6L1110.6 731.3L1113.1 728.9L1115.6 726.6L1118.1 724.2L1120.6 721.9L1123 719.7L1125.5 717.4L1128 715L1130.7 712.5L1133.1 710.2L1135.6 707.8L1138.1 705.3L1140.7 702.8L1143.3 700.2L1145.8 697.8L1148.3 695.3L1150.7 693L1153 690.6L1155.5 688.2L1158.1 685.6L1161 683L1163.7 680.6L1166.6 678.1L1169.7 675.5L1172.8 672.9L1176 670.2L1179.2 667.6L1182.2 665L1185.3 662.3L1188.3 659.7L1191.3 657L1194.3 654.4L1197.4 651.8L1200.4 649.3L1203.5 646.9L1206.6 644.6L1209.8 642.4L1212.9 640.3L1216.1 638.3L1219.3 636.2L1222.5 634.2L1225.7 632.1L1228.9 629.9L1232.2 627.7L1235.4 625.4L1238.6 623.2L1241.8 621.1L1244.9 619.1L1247.9 617.3L1251.2 615.5L1254.3 613.9L1257.4 612.5L1260.3 611.2L1263.3 609.9L1266.3 608.5L1269.4 607L1272.3 605.4L1275.2 603.8L1278.2 602.3L1281.4 600.9L1284.8 599.7L1288 598.8L1291.4 598L1294.9 597.3L1298.5 596.6L1300.1 596.4" stroke-width="10.52" stroke-dasharray="38.92 16.83" stroke-dashoffset="49.9"/>
<path d="M1300.1 596.4L1302.1 596.1L1305.6 595.5L1308.9 595.1L1312.5 594.7L1315.9 594.4L1319.3 594.2L1322.6 594.1L1325.9 594L1329.2 593.8L1332.6 593.6L1336 593.3L1339.4 593.1L1342.8 592.9L1346.1 592.7L1349.5 592.5L1353.5 592.4L1357.5 592.3L1361.4 592.3L1365.4 592.3L1369.3 592.3L1373.3 592.3L1377.3 592.2L1381.3 592.2L1385.3 592.1L1389.2 592.1L1393.1 592L1396.9 592L1400.8 591.9L1404.6 591.9L1408.5 591.8L1412.4 591.7L1416.3 591.7L1420.2 591.6L1424.1 591.6L1427.7 591.5L1431.1 591.4L1434.2 591.3L1437.2 591.1L1440.4 591.1L1443.8 591.2L1447.5 591.5L1451.5 591.9L1455.5 592.5L1459.6 593L1463.7 593.5L1467.7 594L1471.8 594.4L1475.9 594.9L1479.8 595.4L1483.5 595.8L1487.3 596.2L1490.5 596.4L1494.1 596.8L1499.2 597.6L1502.3 598.2L1506.1 598.9L1510.2 599.7L1514.6 600.5L1519 601.4L1523.2 602.2L1527 603L1530.2 603.6L1532.5 604.1" stroke-width="10.52" stroke-dasharray="38.92 16.83" stroke-dashoffset="22.3"/>
<path d="M499.7 1181L499.9 1183.2L500.1 1186.2L500.3 1189.8L500.6 1193.7L500.9 1197.9L501.2 1202.2L501.5 1206.4L501.8 1210.4L502.1 1214L502.4 1218.2L502.8 1222.2L503.1 1226.1L503.5 1229.9L503.8 1233.7L504.1 1237.5L504.4 1241.4L504.7 1244.9L504.9 1248.6L505.1 1252.3L505.4 1255.9L505.6 1259.6L505.8 1263.1L506 1266.4L506.2 1269.5L506.5 1274.3L506.8 1278.9L507.1 1283L507.3 1286.5L507.5 1289L510.5 1296L512.4 1294.7L514.9 1292.9L517.9 1290.8L521.3 1288.4L524.8 1285.9L528.4 1283.4L531.8 1281L534.9 1278.7L537.8 1276.6L540.7 1274.5L543.5 1272.4L546.3 1270.2L549.1 1268.1L551.9 1266L554.6 1263.9L557.4 1261.7L560.1 1259.5L562.9 1257.3L565.6 1255L568.2 1252.7L570.9 1250.4L573.6 1248.2L576.2 1245.9L578.9 1243.6L581.9 1241L585 1238.4L588 1235.8L591 1233.3L594 1230.7L596.9 1228.1L599.9 1225.5L602.9 1222.9L606 1220.2L609 1217.6L612 1214.9L615 1212.4L617.8 1209.9L620.4 1207.5L623.2 1204.9L625.8 1202.5L628.2 1200.1L630.5 1197.9L632.8 1195.6L635.2 1193.2L637.7 1190.9L640.2 1188.5L642.7 1186L645.2 1183.7L647.7 1181.3L650 1179L652.6 1176.3L655.2 1173.7L657.6 1171.1L660 1168.6L662.5 1166L664.9 1163.4L667.2 1160.9L669.6 1158.4L672.1 1155.8L675 1153L677.2 1150.9L679.6 1148.8L682 1146.7L684.6 1144.4L687.3 1142.1L690.1 1139.6L693 1137L695.4 1134.8L698.1 1132.4L700.8 1129.9L701.3 1129.4" stroke-width="10.52" stroke-dasharray="10.52 17.36" stroke-dashoffset="26.4"/>
<path d="M701.3 1129.4L703.6 1127.2L706.5 1124.6L709.3 1122L712 1119.5L714.6 1117.2L717 1115L720.2 1112.1L723.1 1109.6L725.9 1107.2L728.5 1105L731.2 1102.6L734 1100L736.6 1097.6L739.2 1095L741.9 1092.3L744.6 1089.7L747.2 1087L749.7 1084.4L752 1082L754.9 1078.8L757.4 1075.8L759.8 1072.9L762.3 1070L765 1067L767.6 1064.4L770.2 1061.8L773 1059.1L775.9 1056.5L778.7 1053.8L781.5 1051.2L784.3 1048.5L787 1045.9L789.8 1043.2L792.6 1040.6L795.3 1038L798.1 1035.3L800.8 1032.7L803.6 1030.1L806.3 1027.5L809 1024.9L811.8 1022.2L814.6 1019.5L817 1017.1L819.5 1014.8L821.9 1012.4L824.4 1009.9L826.9 1007.5L829.4 1005.1L831.9 1002.7L834.3 1000.3L836.8 997.9L839.3 995.5L841.7 993L844.2 990.6L846.7 988.2L849.1 985.8L851.6 983.4L854.1 981L856.6 978.6L859 976.2L861.5 973.8L864 971.4L866.4 969L869.2 966.2L872 963.3L874.7 960.5L877.5 957.7L880.2 954.8L883 952L885.7 949.2L888.5 946.4L891.2 943.5L893.9 940.7L896.7 937.9L899.6 935L902.1 932.5L904.7 930L907.4 927.5L910.1 925L912.8 922.5L915.4 920L918.1 917.5L920.8 915L923.5 912.5L926.2 909.9L929 907.4L931.6 904.9L934.2 902.4L936.6 900L939.2 897.2L941.7 894.6L944 891.9L946.3 889.3L948.6 886.6L951 884L953.3 881.4L955.7 878.7L958.1 876.1L960.5 873.5L962.9 870.8L965.3 868L967.8 865.2L970.2 862.2L972.7 859.3L975.2 856.3L977.7 853.3L980.2 850.3L982.7 847.4L985.2 844.4L987.6 841.5L990.1 838.6L992.6 835.6L995.1 832.7L997.5 829.8L999.8 826.9L1002.1 824L1004.4 821.1L1007.1 818.1L1010 815" stroke-width="10.52" stroke-dasharray="10.52 17.36" stroke-dashoffset="21.6"/>
<path d="M1010 815L1012.5 812.6L1015.2 810.1L1018.1 807.5L1021.1 804.9L1024.2 802.2L1027.2 799.6L1030.1 797L1032.8 794.5L1035.7 791.7L1038.6 788.9L1041.3 786.1L1044 783.3L1046.7 780.6L1049.4 777.8L1052.2 775L1054.7 772.5L1057.2 770L1059.7 767.5L1062.2 765L1064.8 762.4L1067.3 759.9L1069.9 757.5L1072.5 755L1075.1 752.6L1077.8 750.2L1080.5 747.8L1083.2 745.4L1085.9 743.1L1088.5 740.7L1091.2 738.4L1093.8 736L1096.7 733.3L1099.6 730.6L1102.5 727.9L1105.3 725.2L1108.2 722.5L1111 719.8L1113.9 717.1L1116.8 714.5L1119.7 711.8L1122.5 709.2L1125.4 706.6L1128.3 704L1131.2 701.3L1134.2 698.6L1136.8 696.1L1139.5 693.6L1142.2 691L1144.8 688.4L1147.5 685.8L1150.2 683.2L1152.9 680.7L1155.5 678.3L1158.4 675.7L1161.3 673.1L1164.2 670.7L1167.1 668.2L1170 665.8L1172.9 663.3L1175.8 660.7L1178.4 658.3L1181 655.9L1183.7 653.4L1186.3 650.9L1189 648.4L1191.7 646L1194.3 643.6L1197 641.3L1200 638.8L1203 636.3L1206 633.9L1209 631.5L1212 629.2L1215.1 627L1218.3 624.7L1221.2 622.7L1224.1 620.8L1227 618.8L1230 616.9L1233 615L1236.1 613.2L1239.2 611.5L1242.3 609.9L1245.9 608.2L1249.6 606.5L1253.3 605L1257 603.6L1260.7 602.2L1264.5 600.9L1268.2 599.7L1271.9 598.6L1275.5 597.7L1279.2 596.8L1282.9 596L1286.6 595.2L1290.3 594.3L1294.1 593.3L1297.5 592.3L1300.9 591.1L1304.4 589.9L1307.9 588.7L1311.4 587.5L1314.9 586.3L1318.4 585.1L1321.8 584L1325.7 582.9L1329.5 581.8L1333.3 580.7L1337.2 579.7L1341 578.7L1344.8 577.7L1348.6 576.6L1351.9 575.6L1355.3 574.5L1358.6 573.5L1362 572.4L1365.4 571.3L1368.7 570.2L1372 569.2L1375.4 568.3L1379.2 567.3L1383 566.3L1386.8 565.4L1390.7 564.5L1394.5 563.7L1398.3 562.9L1402.2 562.1L1405.6 561.5L1409.1 560.9L1412.5 560.3L1416 559.7L1419.5 559.2L1423 558.7L1426.4 558.3L1429.9 557.9L1433.9 557.5L1437.8 557.2L1441.8 556.9L1445.7 556.6L1449.7 556.4L1453.6 556.2L1457.6 556L1461.6 555.8L1465.6 555.5L1469.5 555.2L1473.5 555L1477.5 554.8L1481.5 554.7L1485.4 554.8L1489.3 555L1493.2 555.4L1497.1 555.8L1501 556.4L1504.9 556.9L1508.8 557.4L1512.7 557.9L1516.6 558.3L1520.6 558.7L1524.5 559.1L1528.5 559.4L1532.5 559.8L1536.4 560.2L1540.4 560.7L1543.9 561.1L1547.4 561.6L1550.8 562L1554.3 562.5L1557.8 563L1561.3 563.6L1564.8 564.1L1568.2 564.7L1572.1 565.4L1576.1 566.2L1580 566.9L1583.9 567.7L1587.8 568.6L1591.6 569.4L1595.3 570.3L1599.2 571.3L1603.3 572.3L1607.3 573.4L1611.3 574.5L1614.8 575.5L1617.8 576.4L1620 577" stroke-width="10.52" stroke-dasharray="10.52 17.36" stroke-dashoffset="2.6"/>
</g>
<rect x="443.5" y="517.6" width="1232.75" height="812.80" fill="none" stroke="#1c191a" stroke-width="2.8" stroke-linejoin="miter"/>
<path d="M587.55 1330.4v6.6M764.04 1330.4v6.6M940.53 1330.4v6.6M1117.02 1330.4v6.6M1293.51 1330.4v6.6M1470.00 1330.4v6.6M1646.49 1330.4v6.6M443.5 1265.50h-6.6M443.5 1104.60h-6.6M443.5 943.70h-6.6M443.5 782.80h-6.6M443.5 621.90h-6.6" stroke="#1c191a" stroke-width="2.7" fill="none"/>
<text x="587.5" y="1362.5" font-size="25.6" text-anchor="middle">−10</text>
<text x="764.0" y="1362.5" font-size="25.6" text-anchor="middle">−5</text>
<text x="940.5" y="1362.5" font-size="25.6" text-anchor="middle">0</text>
<text x="1117.0" y="1362.5" font-size="25.6" text-anchor="middle">5</text>
<text x="1293.5" y="1362.5" font-size="25.6" text-anchor="middle">10</text>
<text x="1470.0" y="1362.5" font-size="25.6" text-anchor="middle">15</text>
<text x="1646.5" y="1362.5" font-size="25.6" text-anchor="middle">20</text>
<text x="429.9" y="1275.3" font-size="25.6" text-anchor="end">−0.5</text>
<text x="429.9" y="1114.4" font-size="25.6" text-anchor="end">0.0</text>
<text x="429.9" y="953.5" font-size="25.6" text-anchor="end">0.5</text>
<text x="429.9" y="792.6" font-size="25.6" text-anchor="end">1.0</text>
<text x="429.9" y="631.7" font-size="25.6" text-anchor="end">1.5</text>
<text x="1059.9" y="1400.7" font-size="33.3" text-anchor="middle">Inclinaison i (°)</text>
<text transform="translate(352.5 943.9) rotate(-90)" font-size="33.3" font-style="italic">C<tspan font-size="23.3" dy="5.5" dx="0.6">L</tspan></text>
<rect x="457.9" y="532.8" width="268.3" height="228.4" rx="5.6" fill="#fff" stroke="#cccccc" stroke-width="3.3"/>
<path d="M469.6 557.5H528.4" stroke="#231f20" fill="none" stroke-width="7" stroke-linecap="square"/>
<text x="552.1" y="565.8" font-size="29.6" letter-spacing="0.15">Re = 5.10<tspan font-size="20.6" dy="-10.7">4</tspan></text>
<path d="M469.6 601.7H528.4" stroke="#231f20" fill="none" stroke-width="7" stroke-dasharray="25.9 11.2"/>
<text x="552.1" y="610.0" font-size="29.6" letter-spacing="0.15">Re = 1.10<tspan font-size="20.6" dy="-10.7">5</tspan></text>
<path d="M469.6 645.9H528.4" stroke="#231f20" fill="none" stroke-width="7" stroke-dasharray="44.8 11.2 7 11.2"/>
<text x="552.1" y="654.2" font-size="29.6" letter-spacing="0.15">Re = 2.10<tspan font-size="20.6" dy="-10.7">5</tspan></text>
<path d="M469.6 690.1H528.4" stroke="#231f20" fill="none" stroke-width="10.5" stroke-dasharray="38.85 16.8"/>
<text x="552.1" y="698.4" font-size="29.6" letter-spacing="0.15">Re = 5.10<tspan font-size="20.6" dy="-10.7">5</tspan></text>
<path d="M469.6 734.3H528.4" stroke="#231f20" fill="none" stroke-width="10.5" stroke-dasharray="10.5 17.3"/>
<text x="552.1" y="742.6" font-size="29.6" letter-spacing="0.15">Re &gt; 1.10<tspan font-size="20.6" dy="-10.7">6</tspan></text>
</g>
<g font-family="'DejaVu Sans','Liberation Sans',sans-serif" fill="#231f20">
<rect x="440.6" y="1433.4" width="1233.00" height="812.85" fill="#fff"/>
<path d="M585.15 1433.4V2246.25M761.62 1433.4V2246.25M938.10 1433.4V2246.25M1114.58 1433.4V2246.25M1291.05 1433.4V2246.25M1467.53 1433.4V2246.25M1644.00 1433.4V2246.25" stroke="#b0b0b0" stroke-width="2.1" fill="none"/>
<path d="M440.6 2136.38H1673.6M440.6 2024.55H1673.6M440.6 1912.72H1673.6M440.6 1800.90H1673.6M440.6 1689.07H1673.6M440.6 1577.25H1673.6M440.6 1465.42H1673.6" stroke="#b0b0b0" stroke-width="2.78" fill="none"/>
<clipPath id="cp2"><rect x="440.6" y="1433.4" width="1233.00" height="812.85"/></clipPath>
<g clip-path="url(#cp2)" fill="none" stroke="#231f20" stroke-linejoin="round">
<path d="M626.5 1568.1L642.3 1583.8L652.7 1598.5L661.1 1625.7L669.5 1659.2L675.8 1678.1L686.3 1705.3L694.6 1728.3L702 1749.3L711.4 1777.7L719.8 1800.8L732.3 1844.7L742.8 1876.2L753.3 1907.6L759.6 1932.7L765.9 1960L769.6 1980.9L779.4 1988.8L786.4 2001.6L792.3 2013.4L799.2 2024.8L809 2037.1L818.9 2045L828.8 2052.4L838.6 2057.8L848.5 2062.7L858.3 2066.7L868.2 2071.6L878.1 2072.6L887.9 2075.5L900 2077.5L905.7 2079.1L913.1 2079.1L922.9 2082.1L935.3 2085.3L947.6 2092.7L957.4 2095.2L964.8 2094.7L974.7 2091.5L982.1 2092.2L992 2089L999.3 2089L1009.2 2086.1L1024 2083.6L1033.9 2079.9L1043.7 2079.9L1053.6 2073.7L1061 2073.7L1070.8 2068.1L1079.4 2066.3L1088.1 2066.8L1096.7 2059.4L1105.3 2059.4L1115.2 2052L1125 2049.6L1132.4 2045.9L1141.1 2039.2L1149.7 2040.2L1159.5 2028.6L1168.2 2028.6L1176.8 2021.2L1185.7 2015.6L1203.1 2001.8L1211.5 2006L1219.9 1986.1L1229.3 1991.4L1237.7 1969.9L1246.6 1977.2L1255.5 1953.1L1263.9 1950.5L1273.3 1939L1289 1931.1L1299.5 1902.8L1308.4 1885.6L1317.8 1907L1326.7 1882.9L1335.1 1866.2L1343.5 1857.8L1351.9 1859.4L1360.3 1858.3L1371.2 1848.2L1383.8 1829.3L1396.4 1812.6L1401.9 1804.5L1414.9 1794L1429.1 1766.8L1443.8 1737.5L1454.3 1712.3L1464.7 1683L1476.3 1652.5" stroke-width="7.0" stroke-linecap="square"/>
<path d="M629.3 1554.9L642 1551.5L648.5 1552.5L650.6 1572.3L655.9 1597.4L668.5 1631L672.6 1642.5L685.2 1663.4L688.3 1674.9L696.7 1699L702 1709.5L711.4 1732.5L715.6 1745.2L722.9 1766.2L732.3 1778.8L738.6 1800.8L742.8 1814.4L753.3 1834.3L758.5 1848.9L765.9 1867.8L773.2 1882.5L779.5 1903.4L781.6 1918.1L783.7 1941.1L785.8 1955.8L787.2 1978.9L791.4 1999.8L797.3 2013.5L806.1 2045.9L818.2 2055.7L825.6 2063.1L835.5 2070.5L846.5 2080.4L856.4 2084.6L865 2091.5L877.4 2099.4L884.7 2100.1L890.9 2105L899.5 2107.5L911.9 2112.4L922.9 2115.6L934 2121L943.9 2130.4L955 2133.4L967.3 2132.1L979.6 2132.1L1004.3 2131.4L1016.6 2132.1L1026.5 2127.7L1032.6 2128.4L1038.8 2126.5L1052.3 2123.5L1063.4 2119.8L1074.5 2118.6L1086.8 2114.1L1096.7 2114.9L1107.8 2108.7L1121.3 2105L1132.4 2102.6L1142.3 2101.3L1146 2098.9L1157.1 2096.4L1166.9 2091L1180 2089.7L1190.9 2083.7L1215 2078.9L1226.5 2080.1L1238.1 2076.8L1250.6 2080.6L1263.2 2081.6L1287.3 2079.5L1299.9 2080L1321.9 2072.2L1333.3 2066.5L1353.3 2049.7L1358.5 2038.2L1373.1 2018.3L1375.2 2005.7L1388 1984.4L1400.6 1948.7L1413.1 1913.1L1427.8 1879.6L1444.5 1847.1L1465.5 1815.7L1469.3 1808.2L1488.3 1787.5L1493.5 1775.4L1505.6 1770.2L1509 1759L1515 1747.8L1527.1 1727.1L1537.5 1717.6L1544.4 1694.3L1549.6 1683L1560.1 1648.4L1570.5 1611.8L1580 1576.2L1588.3 1538.5L1594.6 1502.8L1598.8 1478.3" stroke-width="7.0" stroke-dasharray="25.9 11.2"/>
<path d="M655.9 1747.3L664.3 1769.3L668.4 1789.2L672.6 1803.9L681 1817.5L690.4 1838.5L694.6 1858.4L696.7 1873L699.9 1889.8L708.2 1906.5L710.3 1929.6L711.4 1944.3L713.5 1960L714.5 1980L716.6 2003L717.7 2019.2L720.8 2034.5L725 2057.5L731.3 2076.4L737.2 2090L744.9 2105.7L753.3 2116.2L761.7 2120.4L774.2 2131.9L789.3 2139.6L801.9 2146.4L843.8 2161.1L858 2164.9L873.1 2168L916.7 2174.7L931.8 2175.8L946.4 2178.9L955.9 2185.2L988.3 2182.1L1004.1 2180L1018.7 2177.9L1062.7 2172.6L1077.8 2169.6L1092.5 2167.1L1135.4 2159.1L1150.1 2156.4L1165.8 2153.5L1209.8 2146.5L1224.4 2144.4L1239.1 2141.3L1282.1 2132.9L1296.3 2127.7L1309.3 2119.3L1330 2103L1345 2088L1349 2077L1360 2050L1372 2025L1381.7 2010.5L1388 1995L1406.9 1957L1411 1942.5L1416.3 1927.8L1434 1888L1440.4 1874.4L1446.6 1858.7L1465.5 1815.7L1478 1791.8L1498.7 1753.8" stroke-width="7.0" stroke-dasharray="44.8 11.2 7 11.2"/>
<path d="M602.9 1748.4L604.5 1823.8L606.6 1899.2L608.7 1980L610.4 2042.8L611.3 2082.6L616.1 2101.5L624.4 2118.3L636 2132.9L650.6 2142.4L669.5 2150.7L685.2 2159.1L700.9 2167.5L719.8 2172.7L736.5 2178L755.4 2182.2L774.2 2186.3L790 2188L828 2193L866 2195L921 2196L940 2196L956 2194.5L975 2200L994 2203L1013 2198L1050 2195L1068 2193.5L1106 2189.5L1142 2185.3L1180 2181L1216 2175L1252 2166L1270 2160L1290 2148L1314.5 2128.3L1335 2103L1351.5 2086L1357.4 2065.4L1383.6 2039.2L1393 2022.5L1414 1993.1L1421.5 1976L1442.5 1942.5L1446.6 1925.7L1467.6 1892.2L1471.8 1877.5L1488.5 1841.9L1493.5 1824.6L1508.1 1790.9L1515.9 1773.7L1530.6 1740" stroke-width="10.52" stroke-dasharray="38.92 16.83"/>
<path d="M496.5 1540L496.5 1542.2L496.6 1545.2L496.6 1548.6L496.7 1552.5L496.8 1556.7L496.8 1561L496.9 1565.3L497 1569.4L497.1 1573.3L497.1 1577L497.2 1580.7L497.2 1584.4L497.3 1588.1L497.4 1591.8L497.4 1595.5L497.5 1599.2L497.5 1602.9L497.6 1606.6L497.7 1610.3L497.7 1614L497.8 1617.7L497.8 1621.4L497.9 1625.1L498 1628.8L498 1632.5L498.1 1636.2L498.1 1640L498.2 1643.7L498.3 1647.4L498.3 1651.1L498.4 1654.8L498.5 1658.5L498.5 1662.2L498.6 1665.9L498.6 1669.6L498.7 1673.3L498.8 1677L498.8 1680.7L498.9 1684.4L498.9 1688.1L499 1691.8L499.1 1695.5L499.1 1699.2L499.2 1702.9L499.2 1706.6L499.3 1710.3L499.4 1714L499.4 1717.8L499.5 1721.5L499.6 1725.2L499.6 1728.9L499.7 1732.6L499.7 1736.3L499.8 1739.9L499.9 1743.9L499.9 1747.9L500 1751.8L500.1 1755.7L500.1 1759.6L500.2 1763.5L500.3 1767.4L500.3 1771.3L500.4 1775.2L500.5 1779.1L500.5 1783L500.6 1787L500.7 1790.9L500.7 1794.8L500.8 1798.7L500.9 1802.7L500.9 1806.6L501 1810.5L501 1814.4L501.1 1818.3L501.2 1822.3L501.2 1826.2L501.3 1830.1L501.4 1834L501.4 1837.9L501.5 1841.9L501.6 1845.8L501.6 1849.7L501.7 1853.6L501.8 1857.6L501.8 1861.5L501.9 1865.4L502 1869.3L502 1873.2L502.1 1877.2L502.2 1881.1L502.2 1885L502.3 1888.9L502.4 1892.9L502.4 1896.8L502.5 1900.7L502.6 1904.6L502.6 1908.5L502.7 1912.5L502.8 1916.4L502.8 1920.3L502.9 1924.2L502.9 1928.2L503 1932.1L503.1 1936L503.1 1939.9L503.2 1943.8L503.3 1947.8L503.3 1951.7L503.4 1955.6L503.5 1959.5L503.5 1963.5L503.6 1967.5L503.7 1971.4L503.7 1975.4L503.8 1979.4L503.9 1983.3L503.9 1987.1L504 1990.9L504.1 1995.1L504.2 1999.1L504.3 2003.1L504.4 2007L504.4 2010.9L504.5 2014.8L504.6 2018.8L504.7 2022.3L504.7 2025.8L504.8 2029.4L504.8 2032.9L504.9 2036.4L504.9 2040L504.9 2043.5L505 2047L505 2051L505 2055L504.9 2059L504.9 2061" stroke-width="10.52" stroke-dasharray="10.52 17.36" stroke-dashoffset="0.3"/>
<path d="M504.9 2061L504.9 2062.9L504.9 2066.9L505.1 2070.8L505.5 2074.7L506 2078.6L506.6 2082.6L507.3 2086.5L508.2 2090.4L509.2 2094.2L510.5 2098L512 2101.5L513.8 2104.9L515.8 2108.3L518.1 2111.5L520.5 2114.6L523.1 2117.6L525.9 2120.4L528.7 2123.1L531.7 2125.6L534.9 2127.8L538.2 2129.9L541.7 2131.8L545.2 2133.7L548.7 2135.6L552.2 2137.5L555.3 2139.2L558.4 2140.8L561.5 2142.4L564.7 2143.9L567.9 2145.5L571 2147L574.2 2148.5L577.3 2150.1L580.8 2151.9L584.3 2153.8L587.8 2155.6L591.2 2157.5L594.7 2159.3L598.2 2161L601.8 2162.7L605 2164.1L608.2 2165.5L611.5 2166.8L614.8 2168.1L618.1 2169.3L621.4 2170.5L624.7 2171.6L628 2172.7L631.8 2173.8L635.6 2174.9L639.4 2175.8L643.3 2176.8L647.1 2177.7L651 2178.6L654.8 2179.6L658.6 2180.7L662.4 2181.8L666.2 2182.9L670.1 2184L673.9 2185.1L677.7 2186.1L681.6 2187L685 2187.7L688.5 2188.3L691.9 2188.8L695.4 2189.3L698.9 2189.7L702.4 2190.2L705.9 2190.7L709.3 2191.2L713.2 2191.8L717.1 2192.5L721 2193.2L724.8 2193.9L728.7 2194.6L732.6 2195.2L736.5 2195.8L740.4 2196.4L744.4 2196.9L748.3 2197.4L752.3 2197.9L756.3 2198.4L760.2 2198.8L764.2 2199.3L768.2 2199.7L772.1 2200.2L776.1 2200.6L780.1 2201L784 2201.4L788 2201.8L792 2202.1L795.5 2202.3L799 2202.5L802.5 2202.7L806.1 2202.9L809.6 2203L813.1 2203.2L816.6 2203.3L820.1 2203.5L824.1 2203.7L828 2204L832 2204.2L835.9 2204.4L839.9 2204.6L843.8 2204.8L847.8 2205L851.8 2205.1L855.7 2205.2L859.7 2205.3L863.6 2205.3L867.6 2205.3L871.5 2205.4L875.5 2205.4L879.5 2205.4L883.4 2205.4L887.4 2205.4L891.4 2205.4L895.4 2205.4L899.3 2205.4L903.3 2205.4L907.3 2205.4L911.2 2205.4L915.2 2205.4L919.1 2205.4L923.1 2205.4L927 2205.4L931 2205.4L935 2205.3L938.9 2205.2L942.9 2205.1L946.9 2205L950.8 2205L954.8 2204.9L958.7 2205L962.6 2205.2L966.5 2205.4L970.4 2205.7L974.3 2206.1L978.1 2206.4L982.1 2206.7L986 2207L989.5 2207.2L993 2207.5L996.5 2207.7L1000.1 2207.9L1003.6 2208.1L1007.2 2208.3L1010.7 2208.4L1014.2 2208.4L1018.2 2208.3L1022.2 2208.2L1026.1 2208L1030.1 2207.8L1034 2207.5L1038 2207.2L1041.9 2206.9L1045.8 2206.6L1049.7 2206.2L1053.7 2205.9L1057.6 2205.5L1061.5 2205L1065.4 2204.6L1069.4 2204.2L1072.9 2203.8L1076.4 2203.4L1080 2203L1083.6 2202.6L1087.1 2202.1L1090.7 2201.7L1094.2 2201.4L1097.7 2201L1101.6 2200.7L1105.5 2200.3L1109.4 2200.1L1113.2 2199.8L1117.1 2199.5L1121 2199.2L1124.9 2198.9L1128.4 2198.6L1131.9 2198.2L1135.4 2197.8L1139 2197.4L1142.6 2197L1146.1 2196.6L1149.7 2196.2L1153.2 2195.8L1156.7 2195.4L1160.2 2195.1L1163.7 2194.7L1167.2 2194.3L1170.7 2194L1174.2 2193.5L1177.6 2193.1L1181.1 2192.6L1185 2192L1188.9 2191.3L1192.8 2190.6L1196.7 2189.9L1200.6 2189.1L1204.5 2188.3L1208.3 2187.4L1212.1 2186.5L1216 2185.6L1219.8 2184.6L1223.6 2183.6L1227.3 2182.6L1231.1 2181.4L1234.9 2180.1L1238.2 2178.9L1241.6 2177.6L1244.9 2176.2L1248.2 2174.8L1251.5 2173.3L1254.8 2171.8L1258 2170.2L1261.1 2168.5L1264.6 2166.5L1267.9 2164.4L1271.2 2162.3L1274.5 2160L1277.7 2157.7L1280.9 2155.4L1284 2153L1287.1 2150.5L1290.1 2148L1293.1 2145.3L1296 2142.6L1299 2140L1302 2137.4L1305.1 2135L1308.3 2132.7L1311.5 2130.6L1314.9 2128.5L1318.2 2126.4L1321.5 2124.3L1324.8 2122.2L1328.1 2119.9L1330.9 2117.8L1333.8 2115.7L1336.7 2113.5L1339.5 2111.2L1342.3 2109L1345.1 2106.7L1347.9 2104.4L1350.6 2102.1L1353.7 2099.5L1356.7 2096.8L1359.6 2094.2L1362.5 2091.5L1365.4 2088.8L1368.3 2086.1L1371.2 2083.4L1374.1 2080.7L1376.9 2077.9L1379.8 2075.1L1382.6 2072.3L1385.4 2069.5L1388.2 2066.7L1390.9 2063.8L1393.6 2060.9L1396.3 2058L1399 2055L1401.6 2052.1L1404.2 2049.1L1406.8 2046L1409.3 2042.9L1411.4 2040.1L1413.5 2037.3L1415.6 2034.4L1417.6 2031.5L1419.6 2028.6L1421.6 2025.7L1423.6 2022.8L1425.7 2020L1428.1 2016.8L1430.5 2013.7L1433 2010.6L1435.5 2007.5L1437.9 2004.4L1440.2 2001.2L1442.5 1998L1444.7 1994.7L1446.8 1991.3L1448.8 1987.8L1450.8 1984.3L1452.7 1980.8L1454.7 1977.4L1456.7 1973.9L1458.7 1970.5L1460.7 1967L1462.7 1963.6L1464.7 1960.1L1466.7 1956.7L1468.7 1953.2L1470.7 1949.8L1472.7 1946.4L1474.7 1942.9L1476.7 1939.5L1478.6 1936.1L1480.6 1932.7L1482.5 1929.2L1484.4 1925.7L1486 1922.6L1487.6 1919.5L1489.2 1916.4L1490.8 1913.3L1492.4 1910.1L1493.9 1907L1495.4 1903.8L1496.9 1900.6L1498.3 1897.4L1499.7 1894.1L1501.1 1890.8L1502.5 1887.5L1503.8 1884.2L1505.1 1880.9L1506.5 1877.6L1507.8 1874.4L1509.3 1870.7L1510.8 1867.1L1512.3 1863.5L1513.8 1859.9L1515.4 1856.4L1516.9 1852.8L1518.5 1849.2L1520.1 1845.6L1521.8 1842L1523.6 1838.5L1525.3 1834.9L1527 1831.3L1528.7 1827.7L1530.4 1824.1L1532 1820.5L1533.5 1816.8L1535.1 1813.2L1536.6 1809.5L1538.1 1805.9L1539.6 1802.2L1541.2 1798.6L1542.8 1795L1544.5 1791.3L1546.1 1787.7L1547.8 1784.1L1549.5 1780.4L1551.1 1776.8L1552.7 1773.1L1554.1 1769.9L1555.4 1766.6L1556.7 1763.3L1558 1760L1559.3 1756.8L1560.6 1753.5L1561.9 1750.2L1563.2 1746.9L1564.5 1743.6L1565.8 1740.4L1567.2 1737.1L1568.5 1733.8L1569.8 1730.5L1571.1 1727.3L1572.4 1724L1573.7 1720.7L1575 1717.4L1576.3 1714.1L1577.5 1710.8L1578.8 1707.6L1580 1704.3L1581.3 1701L1582.5 1697.7L1583.7 1694.5L1585.1 1690.8L1586.4 1687.2L1587.8 1683.6L1589.1 1679.9L1590.4 1676.3L1591.7 1672.7L1593 1669L1594.3 1665.3L1595.6 1661.6L1596.9 1657.9L1598.2 1654.1L1599.5 1650.3L1600.7 1646.6L1602 1642.8L1603.1 1639.4L1604.3 1636L1605.4 1632.6L1606.5 1629.1L1607.6 1625.7L1608.7 1622.4L1609.8 1619.1L1610.8 1616L1612.1 1611.8L1613.5 1607.5L1614.8 1603.3L1616 1599.5L1617 1596.3L1617.7 1594" stroke-width="10.52" stroke-dasharray="10.52 17.36" stroke-dashoffset="20.5"/>
</g>
<rect x="440.6" y="1433.4" width="1233.00" height="812.85" fill="none" stroke="#1c191a" stroke-width="2.8" stroke-linejoin="miter"/>
<path d="M585.15 2246.25v6.6M761.62 2246.25v6.6M938.10 2246.25v6.6M1114.58 2246.25v6.6M1291.05 2246.25v6.6M1467.53 2246.25v6.6M1644.00 2246.25v6.6M440.6 2136.38h-6.6M440.6 2024.55h-6.6M440.6 1912.72h-6.6M440.6 1800.90h-6.6M440.6 1689.07h-6.6M440.6 1577.25h-6.6M440.6 1465.42h-6.6" stroke="#1c191a" stroke-width="2.7" fill="none"/>
<text x="585.1" y="2278.3" font-size="25.6" text-anchor="middle">−10</text>
<text x="761.6" y="2278.3" font-size="25.6" text-anchor="middle">−5</text>
<text x="938.1" y="2278.3" font-size="25.6" text-anchor="middle">0</text>
<text x="1114.6" y="2278.3" font-size="25.6" text-anchor="middle">5</text>
<text x="1291.1" y="2278.3" font-size="25.6" text-anchor="middle">10</text>
<text x="1467.5" y="2278.3" font-size="25.6" text-anchor="middle">15</text>
<text x="1644.0" y="2278.3" font-size="25.6" text-anchor="middle">20</text>
<text x="427.0" y="2146.2" font-size="25.6" text-anchor="end">0.02</text>
<text x="427.0" y="2034.3" font-size="25.6" text-anchor="end">0.04</text>
<text x="427.0" y="1922.5" font-size="25.6" text-anchor="end">0.06</text>
<text x="427.0" y="1810.7" font-size="25.6" text-anchor="end">0.08</text>
<text x="427.0" y="1698.9" font-size="25.6" text-anchor="end">0.10</text>
<text x="427.0" y="1587.0" font-size="25.6" text-anchor="end">0.12</text>
<text x="427.0" y="1475.2" font-size="25.6" text-anchor="end">0.14</text>
<text x="1057.1" y="2316.6" font-size="33.3" text-anchor="middle">Inclinaison i (°)</text>
<text transform="translate(355.1 1859.7) rotate(-90)" font-size="33.3" font-style="italic">C<tspan font-size="23.3" dy="5.5" dx="0.6">D</tspan></text>
<rect x="923.4" y="1448.3" width="267.6" height="228.4" rx="5.6" fill="#fff" stroke="#cccccc" stroke-width="3.3"/>
<path d="M934.6 1473.4H993.4" stroke="#231f20" fill="none" stroke-width="7" stroke-linecap="square"/>
<text x="1016.5" y="1481.7" font-size="29.6" letter-spacing="0.15">Re = 5.10<tspan font-size="20.6" dy="-10.7">4</tspan></text>
<path d="M934.6 1517.6H993.4" stroke="#231f20" fill="none" stroke-width="7" stroke-dasharray="25.9 11.2"/>
<text x="1016.5" y="1525.9" font-size="29.6" letter-spacing="0.15">Re = 1.10<tspan font-size="20.6" dy="-10.7">5</tspan></text>
<path d="M934.6 1561.8H993.4" stroke="#231f20" fill="none" stroke-width="7" stroke-dasharray="44.8 11.2 7 11.2"/>
<text x="1016.5" y="1570.1" font-size="29.6" letter-spacing="0.15">Re = 2.10<tspan font-size="20.6" dy="-10.7">5</tspan></text>
<path d="M934.6 1606.0H993.4" stroke="#231f20" fill="none" stroke-width="10.5" stroke-dasharray="38.85 16.8"/>
<text x="1016.5" y="1614.3" font-size="29.6" letter-spacing="0.15">Re = 5.10<tspan font-size="20.6" dy="-10.7">5</tspan></text>
<path d="M934.6 1650.2H993.4" stroke="#231f20" fill="none" stroke-width="10.5" stroke-dasharray="10.5 17.3"/>
<text x="1016.5" y="1658.5" font-size="29.6" letter-spacing="0.15">Re &gt; 1.10<tspan font-size="20.6" dy="-10.7">6</tspan></text>
</g>
<g font-family="'Liberation Serif',serif" fill="#231f20" font-size="42.1">
<text x="304" y="2394.8" textLength="1505" lengthAdjust="spacing"><tspan font-style="italic">C</tspan><tspan font-style="italic" font-size="27.4" dy="2.5">L</tspan><tspan dy="-2.5"> : coefficient de portance (</tspan><tspan font-style="italic">lift coefficient</tspan>) ; <tspan font-style="italic">C</tspan><tspan font-style="italic" font-size="27.4" dy="2.5">D</tspan><tspan dy="-2.5"> : coefficient de traînée (</tspan><tspan font-style="italic">drag coefficient</tspan>)</text>
<text x="800" y="2441.7" textLength="513" lengthAdjust="spacing"><tspan font-style="italic">i</tspan> : angle d’inclinaison de l’aile</text>
<text x="368" y="2511.6" font-weight="bold" textLength="1238" lengthAdjust="spacing">Document 2 : caractéristiques aérodynamiques du profil NACA 6412</text>
<text x="761.5" y="2553.2" font-size="34.8" letter-spacing="0.04">(<tspan font-style="italic">source : http://airfoiltools.com</tspan><tspan dx="4.5">)</tspan></text>
</g>
<text font-family="'Liberation Serif',serif" font-size="34.8" fill="#1a1a1a"><tspan x="977.2" y="2823.8" letter-spacing="1.2">12 </tspan><tspan x="1026.6" y="2831.6" font-size="48">/ </tspan><tspan x="1052.6" y="2823.8" font-size="34.8" letter-spacing="0.6">14</tspan></text>
</svg>
</body></html>
